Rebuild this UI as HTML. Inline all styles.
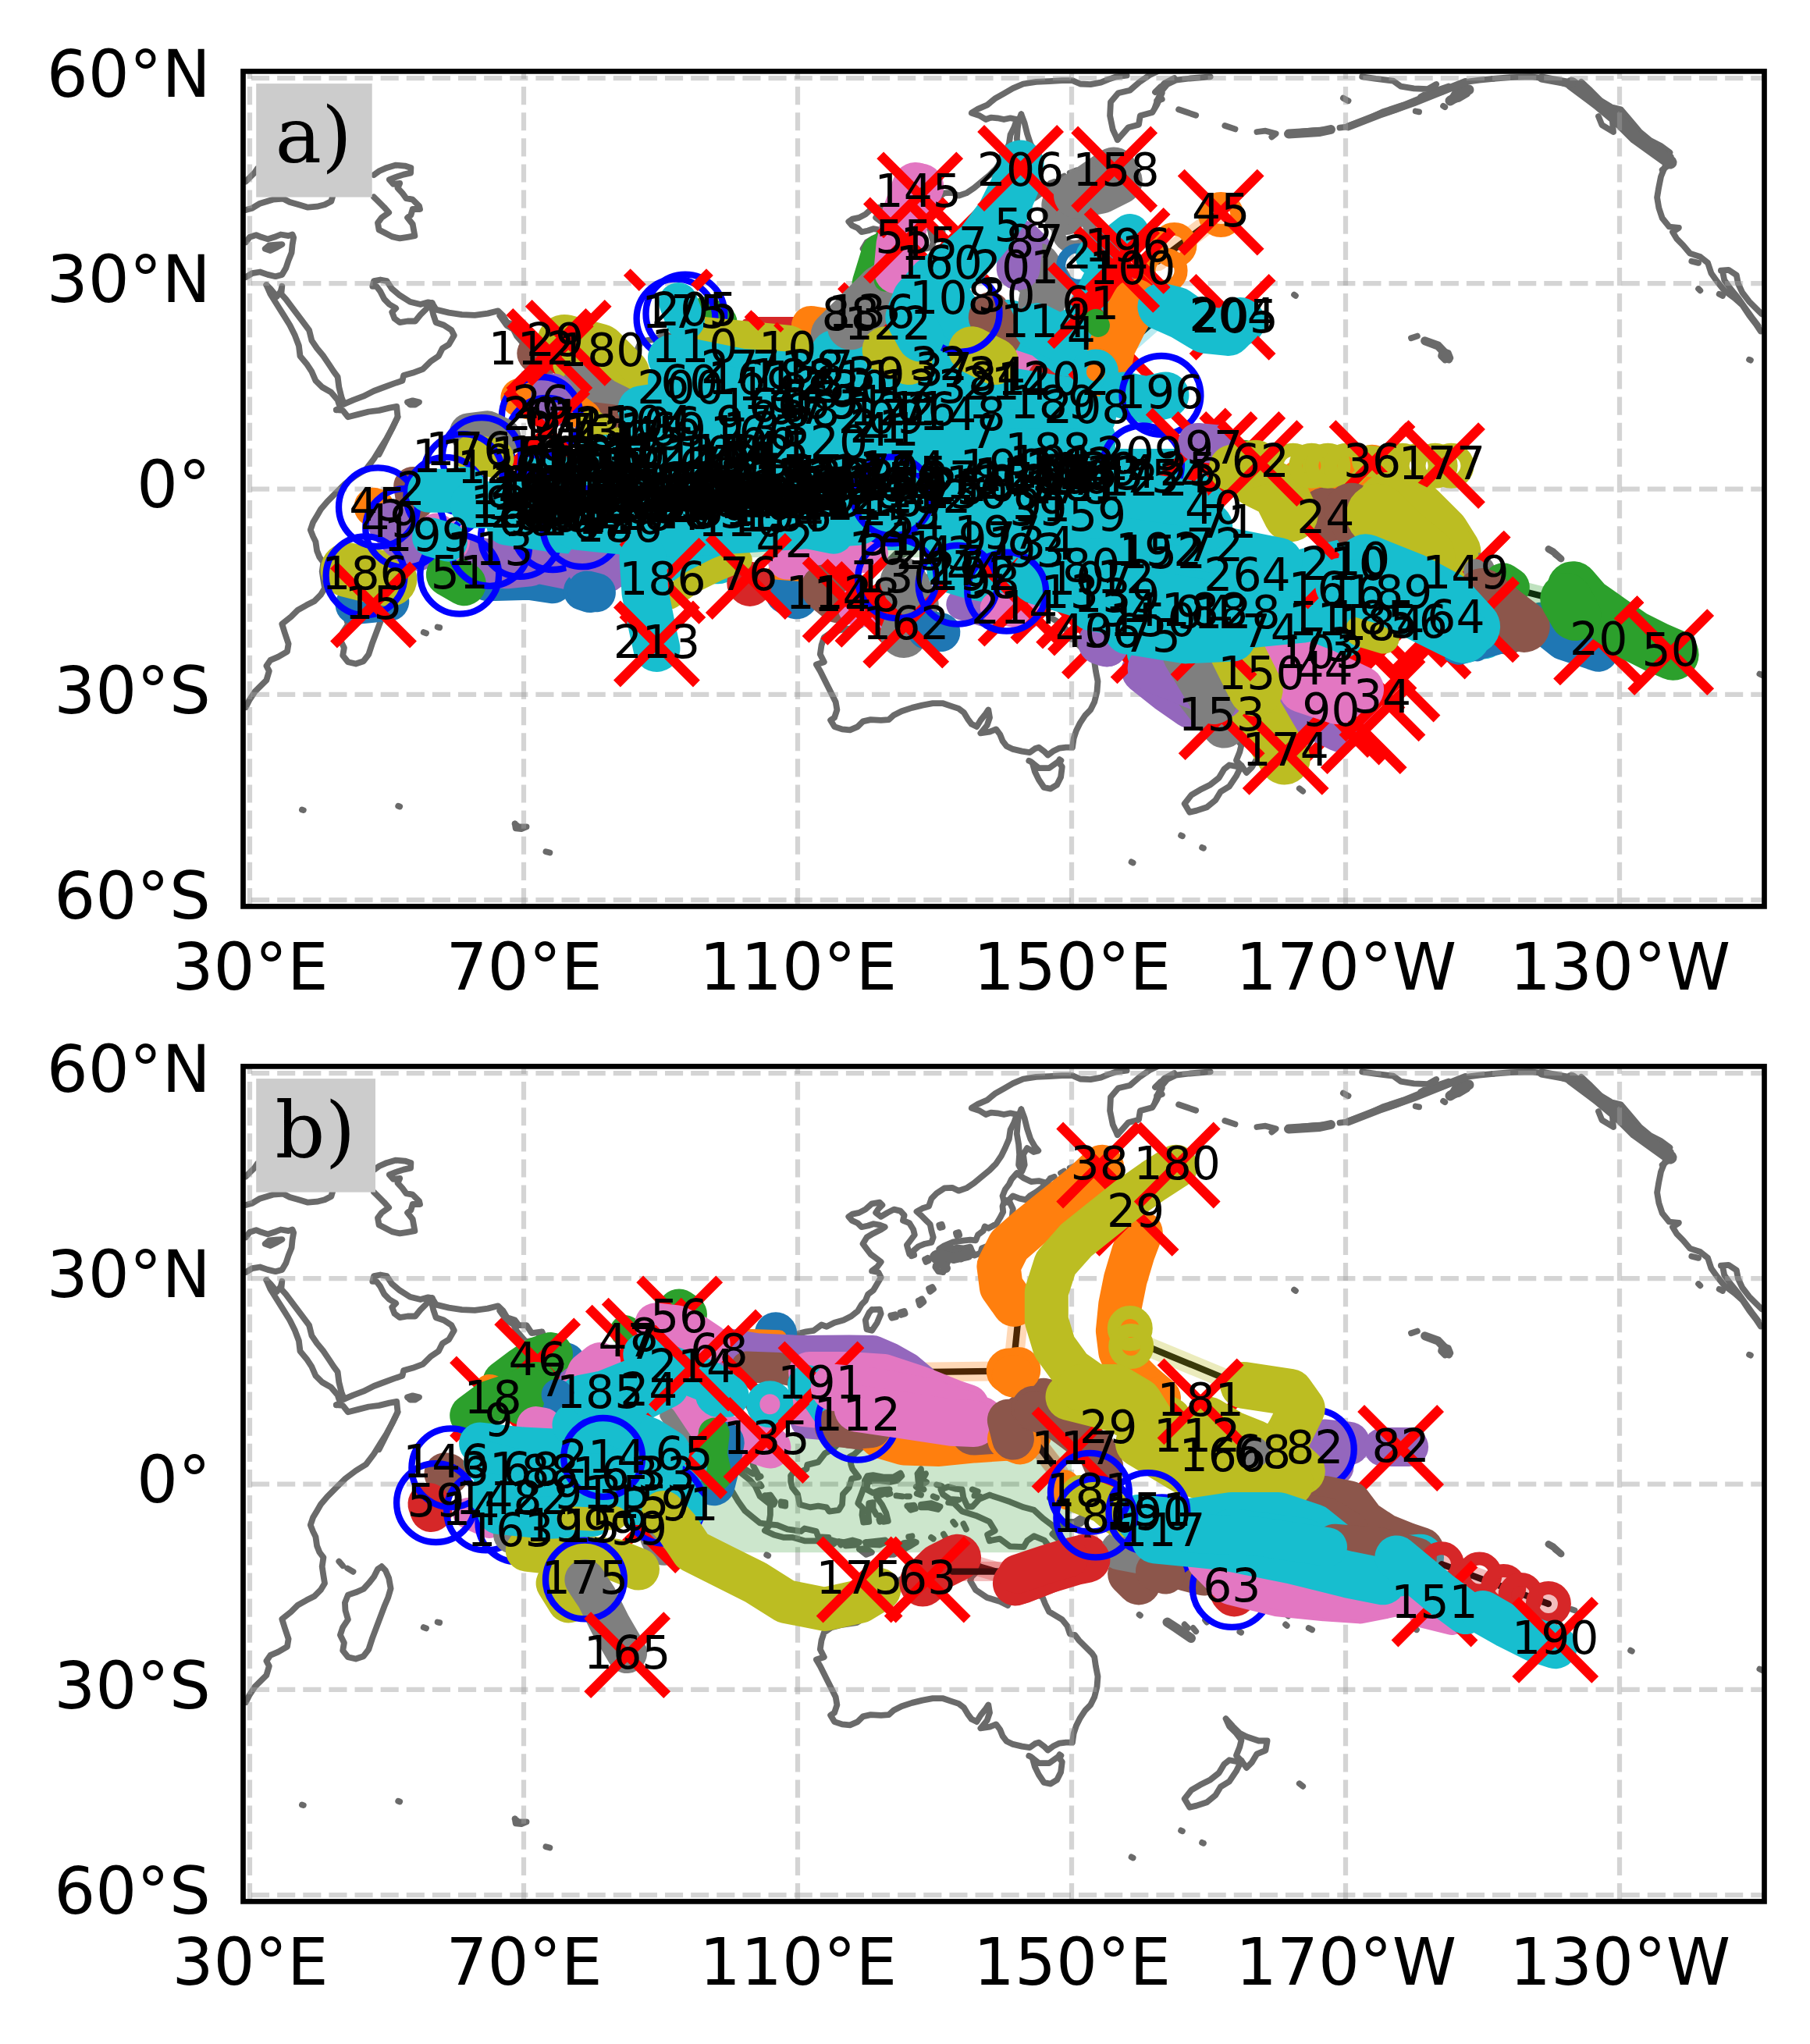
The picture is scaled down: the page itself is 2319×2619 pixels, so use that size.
<!DOCTYPE html>
<html lang="en"><head><meta charset="utf-8"><title>Tracks</title>
<style>html,body{margin:0;padding:0;background:#fff}svg{display:block}</style></head><body>
<svg width="2319" height="2619" viewBox="0 0 2319 2619">
<rect width="2319" height="2619" fill="#fff"/>
<defs>
<clipPath id="cp"><rect x="311.5" y="91.4" width="1949" height="1070"/></clipPath>
<g id="coast" fill="none" stroke="#6a6a6a" stroke-width="7.8" stroke-linecap="round" stroke-linejoin="round">
<path d="M314.9 269 323.2 266.7 333.1 260.7 349.7 255.7 363 254.7 371.3 259 382.9 262.3 394.5 265.7 406.1 264.7 416 262.3 424.3 258 426 252.4"/>
<path d="M314.9 232.5 319.9 227.5 326.5 220.9 329.8 215.9"/>
<path d="M479 224.2 485.6 219.3 495.6 214.9 507.2 211.6 518.8 212.6 526.4 214.9 526.1 221.6 517.1 223.6 507.2 226.9 498.9 230.2 503.9 235.8 512.2 234.8 509.5 240.8 515.5 247.4 520.4 254.1 528.7 255.7 537 264 538 268 528.7 268 526.4 275.6 522.1 278.9 528.7 287.2 531.4 302.1 522.1 303.8 512.2 305.4 502.2 303.1 493.9 298.8 485.6 294.5 484 285.6 489 278.9 498.2 272.3 492.3 265.7 485.6 259 479 252.4"/>
<path d="M314.9 310.4 319.9 303.8 328.2 301.1 334.8 303.8 343.1 306.4 351.4 303.8 359.7 300.5 369.6 302.1 374.6 300.5 376.2 304.4 374.6 313.7 373.6 323.7 369.6 333.6 366.3 343.6 361.3 351.9 353 354.2 343.1 351.9 333.1 348.5 323.2 350.2 314.9 355.2"/>
<path d="M339.8 318.7 346.4 321 354.7 317 361.3 313.1 353 313.7 344.8 314.4 339.8 318.7"/>
<path d="M341.4 365.1 346.4 376.7 354.7 390 363 403.2 371.3 416.5 377.9 429.8 382.9 443 384.5 456.3 392.8 466.2 399.4 476.2 404.4 487.8 412.7 496 424.3 502.7 432.6 512.6 435.9 522.6 430.9 525.2"/>
<path d="M341.4 365.1 346.4 370.1 354.7 380 359.7 373.4 361.3 366.8 360.3 376.7 366.3 383.3 376.2 396.6 386.2 409.9 396.1 423.1 399.4 436.4 406.1 446.3 414.4 456.3 421 466.2 427.6 476.2 432.6 482.8 434.3 496 437.6 509.3 440.9 517.6"/>
<path d="M440.9 517.6 452.5 512.6 465.7 507.7 479 501 492.3 496 505.5 491.1 515.5 487.8 517.1 481.1 528.7 477.8 542 472.8 551.9 462.9 561.9 456.3 566.9 446.3 575.1 441.4 581.8 429.8 578.5 423.1 568.5 416.5 558.6 413.2 555.2 403.2 553.6 396.6 553.6 388.3"/>
<path d="M553.6 388.3 547 394.9 538.7 403.2 532 411.5 522.1 411.5 512.2 413.2 505.5 408.2 502.2 399.9 507.2 394.9 498.9 390 492.3 383.3 487.3 373.4 482.3 366.8 477.3 366.8 479 360.1 487.3 358.5 495.6 360.1 502.2 370.1 512.2 378.4 525.4 386.7 538.7 390 548.6 387.3 553.6 388.3"/>
<path d="M553.6 388.3 558.6 396.6 575.1 400.6 591.7 403.2 608.3 403.9 624.9 401.6 638.1 398.3 644.8 404.9 649.7 413.2 659.7 416.5 664.6 423.1 674.6 423.1 681.2 433.1 694.5 431.4 697.8 439.7"/>
<path d="M430.9 525.2 439.2 525.9 445.9 534.2 459.1 530.9 472.4 527.5 485.6 525.9 498.9 522.6 508.2 520.9 509.5 534.2 503.9 545.8 498.9 555.7 492.3 569 485.6 582.2"/>
<path d="M522.1 515.3 528.7 513.3 537 515.3 532 518.6 525.4 518.6 522.1 515.3"/>
<path d="M1022.7 433.7 1032.6 431.4 1042.5 429.8 1052.5 422.5 1059.1 424.8 1069.1 419.8 1080.7 416.5 1090.6 411.5 1098.9 404.9 1103.9 396.6 1108.8 391.6 1112.2 383.3 1118.8 378.4 1123.8 370.1 1128.7 361.8 1125.4 355.2 1117.1 353.5 1123.8 348.5 1128.7 341.9 1122.1 336.9 1115.5 332 1110.5 325.3 1105.5 318.7 1110.5 310.4 1118.8 305.4 1128.7 300.5 1133.7 297.2 1127.1 294.5 1118.8 293.2 1112.2 295.5 1103.9 297.2 1098.9 292.2 1091.6 288.9 1087.3 283.9 1092.3 280.6 1100.6 278.9 1108.8 274.6 1117.1 267.3 1127.1 265.7 1130.4 269 1125.4 274 1122.1 278.9 1128.7 283.9 1137 278.9 1145.3 274.6 1153.6 276.6 1158.6 282.2 1156.9 288.9 1165.2 292.2 1170.2 300.5 1171.8 307.1 1166.9 313.7 1161.9 320.4 1165.2 332 1176.8 322 1185.1 318.7 1193.4 317 1195.7 310.4 1193.4 302.1 1191.7 293.8 1186.7 288.9 1180.1 282.2 1174.5 277.3 1181.8 273.3 1190.1 270.6 1193.4 260.7 1200 254.1 1209.9 247.4 1219.9 246.8 1228.2 250.7 1238.1 247.4 1248.1 240.8 1258 232.5 1268 224.2 1276.2 215.9 1282.9 206 1287.8 196 1292.8 184.4 1294.5 172.8 1299.4 162.9 1302.8 153 1294.5 151.3 1286.2 153 1277.9 151.3 1269.6 150.6 1263 153 1254.7 148 1244.8 144.7 1253 139.7 1264.6 134.7 1274.6 126.4 1286.2 119.8 1297.8 113.2 1311 107.5 1327.6 104.9 1344.2 104.2 1360.8 103.2 1374 103.2 1384 107.5 1397.2 108.2 1410.5 105.6 1420.4 101.6 1430.4 98.3 1443.6 96.6"/>
<path d="M1308.4 146.3 1312.7 157.9 1316 171.2 1320.3 184.4 1326 194.4 1330.3 199.4 1324.3 201 1316 196 1311 204.3 1312.7 217.6 1309.4 225.9 1305.1 217.6 1306.1 204.3 1305.1 191.1 1302.8 177.8 1303.8 164.6 1305.1 154.6 1308.4 146.3"/>
<path d="M1302.8 228.2 1311 234.2 1321 239.1 1330.9 238.1 1340.9 240.8 1334.3 247.4 1327.6 252.4 1319.3 257.4 1314.4 262.3 1306.1 260.7 1297.8 257.4 1292.8 262.3 1286.2 264 1284.5 257.4 1287.8 249.1 1292.8 242.5 1296.1 235.8 1302.8 228.2"/>
<path d="M1293.8 265.7 1297.8 274 1296.8 283.9 1292.8 293.8 1290.5 303.8 1293.1 313.1 1286.2 317 1283.5 321 1277.9 318.7 1274.6 323.7 1266.3 321 1258 324.3 1256.4 330.3 1248.4 333.6 1244.8 327 1243.1 322.7 1234.8 324.3 1226.5 323.7 1218.2 325.3 1211.6 327 1206.3 328.6 1203.3 325.3 1209.9 321 1221.2 316.4 1234.1 314.7 1243.1 313.7 1250.1 314.4 1253 307.1 1259.7 302.1 1261.7 296.5 1266.3 298.8 1276.6 293.2 1281.2 285.6 1285.2 277.9 1284.5 270.6 1286.2 265.7 1293.8 265.7"/>
<path d="M1219.6 332 1226.5 328.6 1234.8 327.7 1238.8 330.3 1236.5 335.3 1231.5 338.6 1226.5 336.9 1221.5 339.6 1219.6 332"/>
<path d="M1200 330.3 1206.6 330.3 1213.3 333 1214.9 340.2 1211.6 348.5 1208.3 355.2 1202.3 354.2 1198.3 348.5 1200 341.9 1195 336.9 1196.7 332 1200 330.3"/>
<path d="M1117.1 403.2 1127.1 402.6 1128.7 408.2 1123.8 419.8 1117.1 429.8 1110.5 428.1 1108.8 416.5 1113.8 406.5 1117.1 403.2"/>
<path d="M1190.1 376 1194.4 374.1 1196 376.7 1191.7 380 1190.1 376"/>
<path d="M1176.8 391.6 1181.1 389.3 1183.4 393.3 1178.5 397.3 1176.8 391.6"/>
<path d="M1141.3 410.5 1147 409.2 1148 412.5 1142.7 413.8 1141.3 410.5"/>
<path d="M1153.6 406.5 1158.6 404.9 1159.6 408.2 1154.6 409.9 1153.6 406.5"/>
<path d="M1203.3 294.8 1206.6 293.8 1207.6 297.2 1204.3 298.1 1203.3 294.8"/>
<path d="M1224.9 305.1 1228.2 304.1 1229.2 307.4 1225.9 308.4 1224.9 305.1"/>
<path d="M1166.9 331 1170.2 329.6 1171.2 333 1167.8 334.3 1166.9 331"/>
<path d="M1185.1 338.6 1188.4 336.9 1189.7 340.2 1186.4 341.9 1185.1 338.6"/>
<path d="M1345.9 234.8 1350.8 232.8"/>
<path d="M1359.1 228.2 1363.4 225.6"/>
<path d="M1370.7 221.6 1379 218.3"/>
<path d="M1340.9 240.8 1345.9 234.8"/>
<path d="M1480 137.2 1483.5 127 1488.8 115.9 1495.5 108 1506.5 102.7 1524.2 100.5 1550.7 98.3"/>
<path d="M1480 118.1 1486.6 111.5"/>
<path d="M1482.2 129.2 1488.8 127"/>
<path d="M1510.1 140.2 1518.9 143.3 1532.2 147.8"/>
<path d="M1569.3 161 1582.5 165.4"/>
<path d="M1610.4 169 1621.4 167.7 1634.7 171.2 1629.4 175.6"/>
<path d="M1651.5 171.6 1665.6 169 1683.3 167.2 1704.5 165.9"/>
<path d="M1716.5 163.7 1727.5 162.3"/>
<path d="M1727.5 161.5 1745.2 154.8 1767.3 146.9 1789.4 140.2 1811.5 131.4 1833.6 122.6 1846.9 118.1 1860.1 112.4 1871.2 108 1882.2 104.4 1895.5 102.7 1913.1 100.9"/>
<path d="M1745.2 155.7 1771.7 143.3 1798.2 134.5 1820.3 125.7 1838 116.8 1855.7 110.6"/>
<path d="M1745.2 98.3 1762.9 100.9 1785 103.6 1794.7 110.6 1811.5 113.3 1829.2 114.2 1840.2 108 1833.6 116.8 1820.3 123.9"/>
<path d="M1857.9 129.2 1869 127 1880 120.4 1882.2 113.7 1873.4 111.5 1864.5 118.1 1857.9 129.2"/>
<path d="M1720.9 125.7 1727.5 129.2"/>
<path d="M1849.1 135.8 1851.3 137.2"/>
<path d="M1813.7 142.5 1818.1 143.3"/>
<path d="M1913.1 100.9 1935.2 99.1 1961.8 98.3 1983.9 100.9 2003.8 107.1 2021.4 112.4 2034.7 121.2 2048 133.6 2061.2 143.3 2072.3 150.4 2084.6 160.1 2094.4 172.5 2106.7 183.1 2120 190.2 2133.3 197.7 2142.1 205.2 2133.3 213.2 2128 226.4 2125.3 239.7 2123.1 253 2125.3 266.2 2129.7 279.5 2138.6 290.5 2150.9 291.9 2143 297.2 2148.3 306 2156.2 314 2165.1 324.6 2178.3 329 2188.1 336.9 2192.5 350.2 2200.4 361.2 2209.3 372.3 2222.5 382 2232.3 390.9 2241.1 404.1 2249.9 415.6 2255.7 424.4"/>
<path d="M2025.9 104.9 2037.8 115.9 2051 129.2 2064.3 137.2 2076.7 140.2 2089.9 155.7 2101 169 2114.3 180 2127.5 186.7 2139.4 195.5"/>
<path d="M2030.3 111.5 2043.5 127 2054.6 140.2 2065.6 151.3 2067 169 2052.4 160.1 2048 149.1"/>
<path d="M2076.7 146.9 2092.2 164.6 2103.2 175.6 2116.5 185.8 2129.7 193.3 2140.8 200.8 2138.6 211 2129.7 217.6"/>
<path d="M2204.9 346.7 2214.6 345.8 2224.8 352.4 2227 363.5 2232.3 374.9 2241.1 386.4 2249.9 395.3 2257 402.3"/>
<path d="M2207.1 348 2209.3 359 2217.2 370.1 2227 382 2235.8 394.4 2244.6 406.8 2252.6 417.4"/>
<path d="M2176.1 370.1 2178.3 372.3"/>
<path d="M2241.1 460.7 2242.9 461.6"/>
<path d="M2167.3 334.7 2176.1 336.9"/>
<path d="M2202.7 376.7 2207.1 378.9"/>
<path d="M1658.1 377.6 1659.9 378.9"/>
<path d="M1808 433.3 1815.9 430.6"/>
<path d="M1825.6 436.8 1833.6 439.9 1842.4 443"/>
<path d="M1847.7 449.6 1855.7 451.9 1858.3 458.5 1851.3 461.6 1846 456.3 1847.7 449.6"/>
<path d="M509.5 534.3 502.9 548.2 495.6 561.5 487.3 574.7 479 588 469.1 601.2 455.8 609.5 442.5 619.5 430.9 631.1 419.3 642.7 411 652.6 406.1 660.9 401.1 669.2 397.8 679.1 401.1 687.4 404.4 694.1 406.1 705.7 409.4 714 414.4 720.6 412.7 732.2 414.4 743.8 416 753.7 411 762 402.8 770.3 392.8 775.3 381.2 781.9 372.9 790.2 361.3 799.5 364.6 810.1 369.6 825 368 834.9 356.4 841.6 346.4 845.9 341.4 853.2 344.8 859.8 341.4 871.4 334.8 878 326.5 886.3 319.9 896.3 314.9 906.2"/>
<path d="M489 732.2 493.9 737.2 498.2 747.1 500.6 760.4 497.2 772 492.3 783.6 487.3 796.8 482.3 810.1 477.3 823.3 472.4 838.3 465.7 847.2 455.8 850.5 445.9 848.2 439.2 839.9 440.9 830 435.9 820 439.2 810.1 445.9 800.1 442.5 788.5 441.9 778.6 445.9 768.6 455.8 765.3 465.7 761 472.4 753.7 479 745.4 484 735.5 489 732.2"/>
<path d="M434.3 725.6 439.2 731.2"/>
<path d="M445.2 734.5 452.5 738.8"/>
<path d="M542.7 810.1 546 811.4"/>
<path d="M560.6 803.5 563.2 804.1"/>
<path d="M386.9 1037.5 388.8 1038.1"/>
<path d="M510.2 1032.8 512.2 1033.5"/>
<path d="M659.7 1055.4 664.6 1059.4 674.6 1059.4 668 1062 660.7 1061.4 659.7 1055.4"/>
<path d="M699.4 1091.2 704.4 1092.5"/>
<path d="M1065.7 810.1 1055.8 816.7 1052.5 826.7 1050.8 838.3 1055.8 848.2 1045.9 851.5 1050.8 859.8 1055.8 869.8 1060.8 879.7 1065.7 889.6 1070.7 899.6 1072.4 909.5 1069.1 919.5 1064.1 922.8 1069.1 931.1 1079 934.4 1089 935.4 1098.9 931.1 1105.5 924.4 1115.5 922.1 1128.7 922.8 1138.7 922.1 1145.3 916.2 1155.2 911.2 1168.5 906.9 1181.8 903.6 1195 901.2 1208.3 901.2 1218.2 904.6 1228.2 907.9 1234.8 912.8 1239.8 921.1 1244.8 927.8 1251.4 931.1 1256.4 922.8 1263 914.5 1266.3 909.5 1268 919.5 1264.6 929.4 1256.4 939.4 1268 937.7 1276.2 934.4 1281.2 941 1284.5 949.3 1289.5 955.9 1297.8 959.9 1309.4 962.6 1319.3 964.2 1326 959.3 1330.9 957.6 1337.6 962.6 1342.5 967.5 1349.2 962.6 1357.5 958.6 1365.7 957.6 1374 957.6 1375.7 946 1379 936 1384 926.1 1390.6 916.2 1397.2 909.5 1402.2 899.6 1405.5 886.3 1406.5 873.1 1403.9 859.8 1402.2 848.2 1398.9 843.2 1390.6 834.9 1382.3 826.7 1377.3 820 1370.7 818.4 1367.4 808.4 1360.8 800.1 1352.5 795.2 1344.2 790.2 1339.2 780.2 1335.9 772 1330.9 768.6 1324.3 753.7 1317.7 740.5 1312.7 727.2 1307.1 720.6 1305.1 727.2 1302.8 740.5 1299.4 757 1296.1 772 1291.2 781.9 1281.2 776.9 1264.6 772 1250.1 762.3 1243.1 750.4 1244.8 745.4 1249.7 740.5 1257 733.5 1251.4 728.9 1241.4 729.9 1228.2 727.9 1214.9 728.9 1204.3 734.8 1195 737.2 1185.1 740.5 1175.1 737.2 1165.2 743.8 1153.6 748.8 1145.3 757 1135.4 773.6 1129.1 783.9 1112.2 795.2 1097.6 804.1 1079 806.8 1065.7 810.1"/>
<path d="M1322.7 977.5 1330.9 984.1 1344.2 984.1 1355.8 975.8 1360.8 982.5 1359.1 995.7 1354.1 1005.7 1345.9 1010.6 1337.6 1009 1330.9 999 1326 989.1 1322.7 977.5"/>
<path d="M1318.3 974.8 1320.3 975.8"/>
<path d="M1357.5 973.2 1359.4 974.5"/>
<path d="M982.2 717.3 984.2 718.3"/>
<path d="M1459.6 793.8 1460.9 794.8"/>
<path d="M1449.6 1104.4 1451.6 1105.4"/>
<path d="M1570.6 927.2 1579.4 936.9 1588.3 945.8 1597.1 950.2 1612.6 955.5 1623.6 955.5 1621.4 967.9 1610.4 972.3 1603.8 983.3 1597.1 990 1590.5 981.1 1583.9 974.5 1588.3 963.5 1590.5 954.6 1583.9 945.8 1575 936.9 1570.6 927.2"/>
<path d="M1590.5 981.1 1583.9 994.4 1575 1007.7 1564 1014.3 1557.3 1025.3 1546.3 1034.2 1533 1038.6 1524.2 1040.8 1517.6 1029.8 1526.4 1018.7 1537.5 1012.1 1550.7 1005.4 1561.8 996.6 1568.4 985.6 1575 980.2 1583.9 982 1590.5 981.1"/>
<path d="M1664.8 1010.3 1669.2 1013.8"/>
<path d="M1513.1 1070.4 1514.9 1071.3"/>
<path d="M1540.1 1085.9 1541.9 1086.8"/>
<path d="M1495.5 803.5 1506.5 811 1517.6 817.6 1526.4 824.2"/>
<path d="M1517.6 806.5 1522 811"/>
<path d="M1528.6 811 1532.2 815.4"/>
<path d="M1544.1 800.8 1546.3 803.5"/>
<path d="M1612.6 775.6 1620.6 780 1625 785.8"/>
<path d="M1632.5 780 1635.6 782.2"/>
<path d="M1639.1 790.2 1641.8 792"/>
<path d="M1647.1 783.1 1649.7 784.9"/>
<path d="M1648 793.3 1650.6 795.5"/>
<path d="M1647.1 806.5 1648.8 807.9"/>
<path d="M1676.7 811 1681.1 813.2"/>
<path d="M1688.6 789.3 1690.4 790.2"/>
<path d="M1724.4 792.8 1726.2 793.7"/>
<path d="M1588.3 815.8 1590.1 816.7"/>
<path d="M1813.7 812.3 1815 813.2"/>
<path d="M1983.9 703.6 1989.2 707.1"/>
<path d="M1992.7 710.6 1999.8 715.9"/>
<path d="M2013.9 787.1 2017.5 788.4"/>
<path d="M2089.1 839.7 2090.8 840.6"/>
<path d="M2254.4 863.6 2257.9 865.3"/>
<path d="M893 577.4 912.3 580.9 919.3 589.6 932.5 600.2 938.6 607.2 947.4 610.7 960.6 621.2 967.6 629.1 973.7 642.3 986.9 652.8 986.9 666 985.1 677.4 979.9 677.4 973.7 676.5 965 669.5 954.4 660.7 945.7 648.4 937.8 635.3 927.2 622.1 922.8 611.6 914.1 604.6 907.9 597.5 894.8 584.4 893 577.4"/>
<path d="M837.7 435.2 850.9 429.1 862.3 430.8 866.7 444 877.2 455.4 884.2 468.6 886 486.1 893 487.9 906.2 478.2 913.2 481.7 914.9 494.9 918.5 508 922 521.2 922.8 534.4 919.3 547.5 919.3 556.3 929.9 565.1 936.9 573.9 937.8 582.6 940.4 591.4 945.7 600.2 950 604.6 964.1 613.3 971.1 614.2 965 602.8 964.1 591.4 962.3 582.6 953.6 572.1 943 566 936.9 560.7 934.2 551.9 928.1 544.9 927.2 534.4 932.5 521.2 934.2 508.9 942.1 508.9 943 515.9 954.4 519.4 960.6 530 973.7 534.4 978.1 547.5 979.9 550.2 993 543.1 993.9 535.2 998.3 534.4 1013.2 525.6 1015.9 512.4 1013.2 499.3 1007.1 486.1 997.4 477.3 991.3 468.6 984.3 459.8 986.9 451 995.7 442.2 1004.5 437 1017.6 437.8 1022 439.6 1026.4 448.4 1023.8 448.4 1024.6 439.6"/>
<path d="M1009.7 458 1017.6 451 1028.1 451 1030.8 454.5 1025.5 464.2 1017.6 466.8 1010.6 463.3 1009.7 458"/>
<path d="M640.3 404.5 649.1 416.8 657.8 422 662.2 430.8 673.6 444 688.5 442.2 693.8 431.7 695.6 455.4 699.1 477.3 704.3 494.9 711.4 512.4 719.3 525.6 726.3 543.1 736.8 555.4 743 548.4 751.7 544.9 757 536.1 757.9 521.2 761.4 508 759.6 492.2 767.5 484.3 778.9 480.8 789.5 470.3 802.6 456.3 815.8 450.1 820.2 439.6 829 436.1 837.7 435.2"/>
<path d="M757.9 542.3 765.8 547.5 774.5 560.7 773.7 569.5 764 574.7 758.8 570.3 756.1 556.3 757.9 542.3"/>
<path d="M1013.2 616 1017.6 609.8 1024.6 611.6 1033.4 607.2 1034.3 601.9 1048.3 598.4 1057.1 587 1067.6 581.7 1076.4 572.1 1081.7 565.1 1088.7 571.2 1102.7 580.9 1094 588.8 1088.7 591.4 1090.4 601.9 1092.2 607.2 1100.1 617.7 1091.3 619.5 1087.8 630.9 1079.9 639.7 1079 652.8 1074.7 659.8 1062.4 661.6 1058.9 656.3 1048.3 654.6 1037.8 656.3 1024.6 652.8 1022 639.7 1015 630.9 1013.2 623.9 1013.2 616"/>
<path d="M979.9 686.2 986.9 678.3 995.7 679.1 1008.8 684.4 1026.4 687 1030.8 683.5 1045.7 687 1048.3 694.1 1061.5 694.9 1061.5 702.8 1048.3 699.3 1030.8 699.3 1015.9 694.9 1004.5 694.9 991.3 691.4 979.9 686.2"/>
<path d="M1065.9 698.5 1072 700.2 1067.6 703.7 1065.9 698.5"/>
<path d="M1074.7 700.2 1080.8 701.1 1077.3 704.6 1074.7 700.2"/>
<path d="M1081.7 701.1 1092.2 698.5 1101 701.1 1096.6 704.6 1083.4 705.5 1081.7 701.1"/>
<path d="M1108.9 701.1 1118.5 700.2 1134.3 698.5 1136.1 700.2 1127.3 704.6 1109.8 703.7 1108.9 701.1"/>
<path d="M1101 709.9 1109.8 709 1116.8 714.2 1109.8 716.9 1101 709.9"/>
<path d="M1140.5 716.9 1149.2 708.1 1158 702 1171.2 700.2 1173.8 701.1 1166.8 705.5 1153.6 712.5 1144.8 716.9 1140.5 716.9"/>
<path d="M979.9 641.4 986.9 640.5 993 649.3 991.3 652.8 985.1 646.7 979.9 641.4"/>
<path d="M1000.9 649.3 1006.2 650.2 1006.2 654.6 1000.9 653.7 1000.9 649.3"/>
<path d="M971.1 618.6 974.6 616.8"/>
<path d="M973.7 626.5 975.5 629.1"/>
<path d="M1108 622.1 1111.5 616 1118.5 615.1 1131.7 617.7 1144.8 617.7 1153.6 612.5 1155.4 616 1149.2 622.1 1140.5 623.9 1127.3 622.1 1118.5 622.1 1111.5 624.7 1110.6 633.5 1118.5 637.9 1127.3 634.4 1139.6 633.5 1137.8 637 1129.1 640.5 1122.9 643.2 1129.9 652.8 1135.2 663.4 1137.8 673.9 1131.7 674.8 1127.3 666.9 1122.9 666 1118.5 658.1 1118.5 650.2 1113.3 651.1 1112.4 666 1113.3 674.8 1106.2 675.6 1104.5 666 1105.4 657.2 1099.2 651.1 1103.6 639.7 1108 627.4 1108 622.1"/>
<path d="M1132.6 670.4 1136.1 672.1"/>
<path d="M1126.4 672.1 1127.3 674.8"/>
<path d="M1137 639.7 1140.5 638.8"/>
<path d="M1148.4 641.4 1156.3 642.3"/>
<path d="M1161.5 642.3 1165 642.3"/>
<path d="M1175.6 613.3 1180 607.2 1180 616 1186.1 613.3 1181.7 621.2 1187 623.9 1180 628.3 1183.5 633.5 1178.2 630.9 1176.4 622.1 1175.6 613.3"/>
<path d="M1162.4 654.6 1171.2 653.7 1172.9 658.1 1166.8 659.8 1162.4 654.6"/>
<path d="M1180 652.8 1193.1 651.1 1204.5 655.5 1201.9 659 1188.7 656.3 1180 656.3 1180 652.8"/>
<path d="M1173.8 630 1178.2 633.5"/>
<path d="M1174.7 638.8 1180 640.5"/>
<path d="M1200.1 627.4 1206.3 629.1"/>
<path d="M1195.7 642.3 1200.1 644.1"/>
<path d="M1208.9 690.6 1212.4 696.7"/>
<path d="M1234.4 677.4 1237.9 684.4"/>
<path d="M1221.2 674.8 1223.8 678.3"/>
<path d="M1193.1 694.9 1195.7 696.7"/>
<path d="M1164.2 694.1 1168.5 693.2"/>
<path d="M1205.4 633.5 1215.1 630 1223.8 632.6 1232.6 633.5 1234.4 644.1 1239.6 655.5 1245.8 655.5 1254.5 645.8 1267.7 640.5 1280.9 644.9 1294 649.3 1311.6 656.3 1324.7 659.8 1336.1 670.4 1346.7 678.3 1353.7 685.3 1348.4 690.6 1355.5 696.7 1364.2 705.5 1373 716 1380 719.5 1368.6 716.9 1355.5 715.1 1346.7 709.9 1337.9 698.5 1324.7 693.2 1316 699.3 1311.6 707.2 1294 706.4 1280.9 696.7 1267.7 699.3 1265.1 691.4 1274.7 686.2 1267.7 674.8 1250.2 666.9 1232.6 661.6 1222.1 651.1 1215.1 650.2 1228.2 646.7 1216.8 645.8 1208 639.7 1205.4 633.5"/>
<path d="M1358.1 676.5 1368.6 674.8 1377.4 674.8 1386.2 668.6 1393.2 663.4 1392.3 670.4 1384.4 677.4 1373 681.8 1362.5 680.9 1358.1 676.5"/>
<path d="M1380 649.3 1390.5 655.5 1399.3 666 1396.7 666.9 1386.2 655.5 1380 649.3"/>
<path d="M1413.4 672.1 1421.3 679.1 1424.8 686.2 1418.6 684.4 1413.4 672.1"/>
<path d="M1430 687.9 1438.8 693.2"/>
<path d="M1443.2 694.9 1456.4 701.1"/>
<path d="M1457.2 709 1467.8 712.5"/>
<path d="M1466.9 701.1 1472.2 710.7"/>
<path d="M1472.2 716.9 1480.1 720.4"/>
<path d="M1344.9 644.1 1349.3 644.9"/>
<path d="M1245.8 633.5 1252.8 636.2"/>
<path d="M1248.4 641.4 1255.4 642.3"/>
<path d="M1115 464.2 1127.3 465 1129.9 477.3 1123.8 486.1 1124.7 499.3 1136.1 503.7 1144.8 512.4 1144.8 515.9 1136.1 510.7 1129.9 505.4 1121.2 507.2 1115 501.9 1117.6 497.5 1111.5 496.6 1108.9 484.3 1113.3 472.9 1115 464.2"/>
<path d="M1127.3 565.1 1138.7 551.9 1151.9 551.9 1158 541.4 1165 549.3 1166.8 563.3 1164.2 571.2 1158 573.9 1158 565.1 1153.6 575.6 1144.8 569.5 1144.8 560.7 1136.1 560.7 1127.3 565.1"/>
<path d="M1147.5 516.8 1156.3 518.6 1159.8 530 1153.6 536.1 1151.9 525.6 1147.5 516.8"/>
<path d="M1127.3 523 1136.1 525.6 1137.8 534.4 1138.7 544.9 1132.6 542.3 1131.7 533.5 1127.3 534.4 1127.3 523"/>
<path d="M1085.2 552.8 1096.6 543.1 1105.4 531.7 1103.6 536.1 1094.8 547.5 1085.2 552.8"/>
<path d="M1113.3 508.9 1122 510.7 1121.2 518.6 1116.8 516.8 1113.3 508.9"/>
<path d="M1140.5 532.6 1144.8 530"/>
<path d="M1144.8 541.4 1149.2 538.8"/>
<path d="M1431.8 179 1425.7 165.8 1422.1 148.3 1423 130.7 1432.7 119.3 1447.6 115.8 1460.8 104.4 1473.9 95.6 1487.1 89.5"/>
<path d="M1431.8 179 1445.8 163.2 1459 159.7 1460.8 148.3 1476.5 143.9 1482.7 133.3 1488.8 119.3 1482.7 117.5 1491.5 107 1504.6 100"/>
<path d="M870.2 508 871.9 521.2 869.3 524.7"/>
<path d="M868.4 532.6 869.3 534.4"/>
<path d="M879 563.3 880.7 566"/>
<path d="M697.3 566.8 698.2 567.7"/>
<path d="M700.8 589.6 701.7 591.4"/>
<path d="M698.2 622.1 699.1 623.9"/>
<path d="M692.1 690.6 692.9 691.4"/>
<path stroke-width="17" d="M2013.6 107.2 2048 133 2074 154.7 2095.5 176.2 2125.7 197.8 2140 208"/>
<path stroke-width="11" d="M1975 100 2013.6 107.2"/>
<path stroke-width="10" d="M1727.5 162.4 1767.3 146.9 1811.5 131.4 1855.7 113.7 1877.8 105"/>
<path stroke-width="12" d="M1651 171.6 1691 169 1705 166"/>
<path stroke-width="13" d="M1858 129 1870 122 1882 115"/>
<path stroke-width="14" d="M1203 333 1222 337 1240 333"/>
<path stroke-width="12" d="M1197 335 1212 350"/>
<path stroke-width="12" d="M1495.5 803.5 1507 811 1526 824"/>
<path stroke-width="12" d="M1612.6 775.6 1625 785.8"/>
<path stroke-width="9" d="M1984 703.6 1990 707 2000 716"/>
<path stroke-width="11" d="M1825.6 436.8 1842.4 443 1851 452 1856 460"/>
</g>
<g id="grid"><g stroke="#a0a0a0" stroke-opacity=".45" stroke-width="6.25" stroke-dasharray="23.125 10" fill="none">
<path d="M322 100 H2260.5"/>
<path d="M322 363.2 H2260.5"/>
<path d="M322 626.5 H2260.5"/>
<path d="M322 889.8 H2260.5"/>
<path d="M322 1153 H2260.5"/>
<path d="M320 77.9 V1161.4"/>
<path d="M671 77.9 V1161.4"/>
<path d="M1022 77.9 V1161.4"/>
<path d="M1373 77.9 V1161.4"/>
<path d="M1724 77.9 V1161.4"/>
<path d="M2075 77.9 V1161.4"/>
</g></g>
<g id="mx" stroke="#ff0000" stroke-width="12.5" stroke-linecap="butt" fill="none"><path d="M-51 -51L51 51M-51 51L51 -51"/></g><g id="mc" stroke="#0000ff" stroke-width="8.3" fill="none"><circle r="50.4"/></g>
</defs>
<g transform="translate(0 0)">
<g clip-path="url(#cp)">
<use href="#coast"/>
<use href="#grid"/>
<g fill="none" stroke-linecap="round" stroke-linejoin="round">
<rect x="890.4" y="563.3" width="482.6" height="150.9" fill="#008000" fill-opacity=".2" stroke="none"/>
<use href="#mx" x="1745" y="860"/>
<use href="#mx" x="1790" y="870"/>
<use href="#mx" x="1720" y="925"/>
<use href="#mx" x="1760" y="835"/>
<use href="#mx" x="1800" y="800"/>
<use href="#mx" x="1830" y="815"/>
<use href="#mx" x="1700" y="880"/>
<use href="#mx" x="1745" y="790"/>
<use href="#mx" x="1690" y="760"/>
<use href="#mx" x="1640" y="800"/>
<path d="M700 605 1000 605 1300 605 1540 605" stroke="#17becf" stroke-width="60"/>
<path d="M700 640 1000 640 1300 640 1540 640" stroke="#17becf" stroke-width="60"/>
<path d="M700 675 1000 675 1300 675 1540 675" stroke="#17becf" stroke-width="60"/>
<path d="M454.6 775 499.3 770.6" stroke="#1f77b4" stroke-width="50"/>
<path d="M624.6 745.2 678.3 743.7 708.2 748.2" stroke="#1f77b4" stroke-width="50"/>
<path d="M612.7 718.3 648.5 724.3 678.3 721.3" stroke="#9467bd" stroke-width="60"/>
<path d="M445.6 730.3 469.5 736.2 499.3 742.2" stroke="#bcbd22" stroke-width="70"/>
<path d="M478.5 649.7 479.9 650.3" stroke="#ff7f0e" stroke-width="50"/>
<path d="M481.4 649.7 499.3 657.2" stroke="#000" stroke-width="8.3"/>
<path d="M481.4 649.7 499.3 657.2" stroke="#ff7f0e" stroke-opacity=".3" stroke-width="25"/>
<path d="M529.2 622.9 532.2 640.8" stroke="#8c564b" stroke-width="50"/>
<path d="M499.3 670.6 514.3 688.5 535.1 703.4" stroke="#9467bd" stroke-width="56"/>
<path d="M573.9 736.2 594.8 748.2" stroke="#2ca02c" stroke-width="56"/>
<path d="M559 682.5 576.9 694.5" stroke="#e377c2" stroke-width="50"/>
<path d="M687.3 452.8 693.3 458.8" stroke="#8c564b" stroke-width="50"/>
<path d="M723.1 437.9 767.8 449.8 797.7 479.7 803.6 509.5" stroke="#bcbd22" stroke-width="70"/>
<use href="#mx" x="705.2" y="464.8"/>
<path d="M738 464.8 767.8 494.6 791.7 524.4" stroke="#bcbd22" stroke-width="60"/>
<path d="M747 488.6 773.8 509.5 803.6 524.4" stroke="#7f7f7f" stroke-width="50"/>
<path d="M761.9 530.4 785.7 533.4" stroke="#8c564b" stroke-width="30"/>
<path d="M666.4 509.5 678.3 512.5" stroke="#ff7f0e" stroke-width="50"/>
<path d="M738 524.4 749.9 533.4" stroke="#ff7f0e" stroke-width="40"/>
<path d="M708.2 506.5 711.2 518.5" stroke="#9467bd" stroke-width="56"/>
<use href="#mc" x="693.3" y="533.4"/>
<use href="#mc" x="700.7" y="560.2"/>
<use href="#mx" x="700.7" y="551.3"/>
<path d="M600.8 554.3 624.6 551.3 642.5 560.2" stroke="#7f7f7f" stroke-width="50"/>
<path d="M606.7 581.1 633.6 587.1" stroke="#bcbd22" stroke-width="50"/>
<path d="M758.9 545.3 767.8 551.3" stroke="#bcbd22" stroke-width="40"/>
<path d="M693.3 718.3 738 727.3 782.8 724.3" stroke="#9467bd" stroke-width="60"/>
<path d="M747 757.1 755.9 760.1" stroke="#1f77b4" stroke-width="50"/>
<use href="#mc" x="484.4" y="649.7"/>
<use href="#mc" x="468" y="737.7"/>
<use href="#mc" x="518.7" y="676.6"/>
<use href="#mc" x="570.9" y="636.3"/>
<use href="#mc" x="593.3" y="606.5"/>
<use href="#mc" x="617.2" y="585.6"/>
<use href="#mc" x="588.8" y="736.2"/>
<use href="#mc" x="627.6" y="700.4"/>
<use href="#mc" x="666.4" y="688.5"/>
<use href="#mc" x="708.2" y="679.6"/>
<path d="M550.1 628.8 573.9 628.8 594.8 625.9" stroke="#17becf" stroke-width="56"/>
<path d="M553 688.5 573.9 694.5" stroke="#17becf" stroke-width="50"/>
<path d="M606.7 646.7 648.5 646.7 708.2 646.7 767.8 646.7" stroke="#17becf" stroke-width="60"/>
<path d="M648.5 673.6 708.2 682.5 767.8 688.5 827.5 688.5" stroke="#17becf" stroke-width="50"/>
<path d="M821.5 524.4 857.3 518.5 887.2 527.4 920 539.3" stroke="#17becf" stroke-width="60"/>
<path d="M827.5 554.3 872.3 554.3 920 563.2" stroke="#17becf" stroke-width="60"/>
<path d="M767.8 587.1 827.5 587.1 887.2 587.1 920 587.1" stroke="#17becf" stroke-width="60"/>
<path d="M738 616.9 827.5 616.9 920 616.9" stroke="#17becf" stroke-width="60"/>
<path d="M767.8 646.7 857.3 646.7 920 646.7" stroke="#17becf" stroke-width="60"/>
<path d="M827.5 676.6 887.2 676.6 920 676.6" stroke="#17becf" stroke-width="60"/>
<path d="M752.9 706.4 797.7 709.4" stroke="#bcbd22" stroke-width="30"/>
<path d="M857.3 712.4 887.2 718.3 920 718.3" stroke="#17becf" stroke-width="60"/>
<path d="M754.9 723.5 775.8 729.5" stroke="#9467bd" stroke-width="60"/>
<path d="M751.9 756.4 763.9 759.3" stroke="#1f77b4" stroke-width="50"/>
<path d="M1008.5 759.3 1020.4 765.3" stroke="#1f77b4" stroke-width="56"/>
<path d="M993.6 732.5 1032.4 735.5" stroke="#ff7f0e" stroke-width="20"/>
<path d="M959.3 747.4 960.8 748.9" stroke="#d62728" stroke-width="56"/>
<path d="M859.3 765.3 889.2 744.4 919 729.5 948.8 717.6" stroke="#bcbd22" stroke-width="30"/>
<path d="M1008.5 717.6 1068.2 711.6 1112.9 708.6" stroke="#e377c2" stroke-width="50"/>
<path d="M1056.2 753.4 1074.1 768.3" stroke="#8c564b" stroke-width="60"/>
<path d="M1098 777.2 1157.7 783.2" stroke="#e377c2" stroke-width="50"/>
<use href="#mx" x="1083.1" y="768.3"/>
<use href="#mx" x="1107" y="771.3"/>
<use href="#mx" x="1124.9" y="774.3"/>
<path d="M1157.7 744.4 1172.6 774.3 1157.7 813" stroke="#7f7f7f" stroke-width="60"/>
<path d="M1187.5 807.1 1205.4 810.1" stroke="#1f77b4" stroke-width="50"/>
<path d="M1232.3 774.3 1262.1 783.2" stroke="#9467bd" stroke-width="40"/>
<use href="#mc" x="1142.8" y="646"/>
<use href="#mc" x="746" y="675.8"/>
<path d="M740 669.8 829.5 678.8 919 675.8 1008.5 669.8 1098 663.9" stroke="#17becf" stroke-width="70"/>
<use href="#mx" x="848.9" y="744.4"/>
<path d="M823.5 714.6 826.5 759.3 835.5 804.1 841.4 830.9" stroke="#17becf" stroke-width="60"/>
<path d="M1038.3 678.8 1068.2 684.8" stroke="#17becf" stroke-width="50"/>
<path d="M1187.5 669.8 1232.3 684.8 1280 699.7" stroke="#17becf" stroke-width="70"/>
<path d="M1217.3 729.5 1247.2 738.5 1280 744.4" stroke="#17becf" stroke-width="60"/>
<use href="#mx" x="841.4" y="825"/>
<use href="#mx" x="959.3" y="738.5"/>
<use href="#mx" x="1160.7" y="801.1"/>
<path d="M904.8 405 919.7 413.9" stroke="#2ca02c" stroke-width="50"/>
<use href="#mc" x="877.9" y="402"/>
<use href="#mc" x="866" y="408"/>
<use href="#mx" x="1012.2" y="455.7"/>
<use href="#mx" x="1042" y="473.6"/>
<path d="M964.4 425.9 994.3 425.9 1021.1 425.9" stroke="#d62728" stroke-width="40"/>
<path d="M1039 416.9 1056.9 419.9" stroke="#ff7f0e" stroke-width="50"/>
<path d="M889.8 434.8 949.5 440.8 1009.2 446.7" stroke="#bcbd22" stroke-width="60"/>
<path d="M1128.5 324.4 1116.6 363.2" stroke="#2ca02c" stroke-width="50"/>
<path d="M1173.3 237.9 1158.3 279.7 1152.4 324.4" stroke="#e377c2" stroke-width="60"/>
<use href="#mx" x="1128.5" y="416.9"/>
<path d="M1068.8 428.8 1098.7 399 1128.5 369.2 1152.4 354.3" stroke="#7f7f7f" stroke-width="60"/>
<path d="M1325.4 351.3 1343.3 363.2" stroke="#7f7f7f" stroke-width="60"/>
<path d="M1307.5 309.5 1319.4 321.4" stroke="#9467bd" stroke-width="56"/>
<path d="M1268.7 399 1277.7 413.9" stroke="#8c564b" stroke-width="50"/>
<path d="M1292.6 452.7 1337.3 458.7" stroke="#e377c2" stroke-width="56"/>
<path d="M1337.3 482.5 1367.2 488.5" stroke="#d62728" stroke-width="40"/>
<path d="M1232.9 443.8 1262.8 458.7" stroke="#bcbd22" stroke-width="60"/>
<use href="#mx" x="1146.4" y="452.7"/>
<path d="M1301.5 237.9 1283.6 279.7 1247.8 318.5 1203.1 354.3 1182.2 387.1 1203.1 428.8" stroke="#17becf" stroke-width="60"/>
<path d="M1218 387.1 1232.9 410.9" stroke="#17becf" stroke-width="60"/>
<path d="M860 458.7 949.5 476.6 1039 482.5 1128.5 476.6 1218 488.5 1307.5 503.4 1400 518.3" stroke="#17becf" stroke-width="60"/>
<path d="M860 488.5 979.3 506.4 1098.7 512.4 1218 518.3 1400 533.3" stroke="#17becf" stroke-width="60"/>
<path d="M860 518.3 979.3 536.2 1098.7 542.2 1218 548.2 1400 563.1" stroke="#17becf" stroke-width="60"/>
<path d="M860 548.2 979.3 566.1 1098.7 572 1218 578 1400 580.1" stroke="#17becf" stroke-width="60"/>
<path d="M1068.8 452.7 1128.5 458.7 1188.2 458.7" stroke="#17becf" stroke-width="60"/>
<path d="M1292.6 413.9 1337.3 428.8 1367.2 452.7" stroke="#17becf" stroke-width="60"/>
<path d="M869 387.1 877.9 410.9" stroke="#17becf" stroke-width="50"/>
<path d="M1089.8 418.3 1119.7 388.5 1149.5 364.6" stroke="#7f7f7f" stroke-width="60"/>
<path d="M1136.1 305 1134.6 358.7" stroke="#2ca02c" stroke-width="30"/>
<path d="M1179.3 239.3 1161.4 275.1 1152.5 313.9 1149.5 346.7" stroke="#e377c2" stroke-width="60"/>
<use href="#mx" x="1178.7" y="249.8"/>
<use href="#mx" x="1161.4" y="308"/>
<use href="#mx" x="1215.1" y="310.9"/>
<path d="M1555.2 281.1 1483.6 334.8" stroke="#000" stroke-width="8.3"/>
<path d="M1555.2 281.1 1483.6 334.8" stroke="#ff7f0e" stroke-opacity=".3" stroke-width="25"/>
<circle cx="1564.2" cy="275.1" r="20.5" stroke="#ff7f0e" stroke-width="17"/>
<circle cx="1504.5" cy="313.9" r="20.5" stroke="#ff7f0e" stroke-width="17"/>
<circle cx="1492.6" cy="346.7" r="20.5" stroke="#ff7f0e" stroke-width="17"/>
<path d="M1447.8 388.5 1432.9 418.3 1418 448.2 1412 478" stroke="#ff7f0e" stroke-width="60"/>
<path d="M1427 218.5 1388.2 245.3 1364.3 263.2" stroke="#7f7f7f" stroke-width="60"/>
<circle cx="1364.3" cy="272.2" r="20.5" stroke="#7f7f7f" stroke-width="17"/>
<circle cx="1376.2" cy="296" r="20.5" stroke="#7f7f7f" stroke-width="17"/>
<path d="M1328.5 340.8 1340.4 358.7 1334.5 388.5" stroke="#7f7f7f" stroke-width="60"/>
<circle cx="1382.2" cy="340.8" r="23" stroke="#1f77b4" stroke-width="12"/>
<path d="M1307.6 313.9 1304.6 343.8" stroke="#9467bd" stroke-width="56"/>
<path d="M1424 382.5 1453.8 364.6" stroke="#9467bd" stroke-width="20"/>
<path d="M1268.8 406.4 1280.8 430.3" stroke="#8c564b" stroke-width="56"/>
<path d="M1134.6 448.2 1164.4 463.1" stroke="#bcbd22" stroke-width="60"/>
<path d="M1245 448.2 1274.8 463.1" stroke="#bcbd22" stroke-width="60"/>
<use href="#mc" x="1230.1" y="400.4"/>
<path d="M1307.6 209.5 1298.7 239.3 1280.8 275.1 1253.9 310.9 1227.1 334.8 1194.3 358.7 1173.4 382.5 1164.4 406.4 1179.3 433.3" stroke="#17becf" stroke-width="60"/>
<path d="M1292.7 263.2 1268.8 299 1239 334.8 1209.2 358.7" stroke="#17becf" stroke-width="60"/>
<path d="M1328.5 418.3 1358.3 433.3 1388.2 418.3 1403.1 388.5 1418 358.7" stroke="#17becf" stroke-width="60"/>
<path d="M1403.1 328.8 1432.9 310.9 1447.8 299" stroke="#17becf" stroke-width="50"/>
<path d="M1450.8 436.2 1477.7 412.4" stroke="#000" stroke-width="8.3"/>
<path d="M1450.8 436.2 1477.7 412.4" stroke="#17becf" stroke-opacity=".3" stroke-width="25"/>
<path d="M1483.6 391.5 1507.5 397.5 1537.3 418.3 1567.2 424.3 1591 412.4" stroke="#17becf" stroke-width="60"/>
<circle cx="1403.1" cy="472" r="20.5" stroke="#17becf" stroke-width="17"/>
<use href="#mx" x="1307.6" y="215.5"/>
<use href="#mx" x="1450.8" y="346.7"/>
<use href="#mx" x="1397.1" y="391.5"/>
<use href="#mx" x="1424" y="433.3"/>
<use href="#mx" x="1564.2" y="272.2"/>
<use href="#mx" x="1579.1" y="406.4"/>
<path d="M1380 249.8 1409.8 243.9 1433.7 231.9" stroke="#7f7f7f" stroke-width="60"/>
<path d="M1454.6 387.1 1439.7 413.9 1424.8 443.8 1418.8 473.6" stroke="#ff7f0e" stroke-width="60"/>
<path d="M1403.9 410.9 1406.9 416.9" stroke="#2ca02c" stroke-width="30"/>
<circle cx="1403.9" cy="476.6" r="20.5" stroke="#17becf" stroke-width="17"/>
<path d="M1439.7 506.4 1469.5 512.4 1493.4 506.4" stroke="#17becf" stroke-width="60"/>
<path d="M1487.4 393 1514.3 405 1544.1 422.9 1573.9 425.9 1588.8 410.9" stroke="#17becf" stroke-width="60"/>
<use href="#mc" x="1488" y="506.4"/>
<use href="#mc" x="1463.5" y="595.9"/>
<use href="#mx" x="1427.7" y="217"/>
<use href="#mx" x="1444.1" y="321.4"/>
<use href="#mx" x="1430.7" y="345.3"/>
<use href="#mx" x="1523.2" y="578"/>
<use href="#mx" x="1556" y="582.5"/>
<use href="#mx" x="1591.8" y="582.5"/>
<path d="M1416 826.2 1419 829.2" stroke="#9467bd" stroke-width="50"/>
<path d="M1514.5 835.1 1538.3 838.1" stroke="#7f7f7f" stroke-width="40"/>
<path d="M1466.7 859 1496.6 882.9 1526.4 903.8" stroke="#9467bd" stroke-width="60"/>
<path d="M1642.8 888.8 1687.5 918.7 1717.3 933.6" stroke="#9467bd" stroke-width="60"/>
<circle cx="1523.4" cy="873.9" r="20.5" stroke="#7f7f7f" stroke-width="17"/>
<path d="M1523.4 873.9 1544.3 900.8 1568.2 930.6" stroke="#7f7f7f" stroke-width="56"/>
<path d="M1562.2 823.2 1583.1 859 1607 906.7 1627.8 942.5 1645.7 972.4" stroke="#bcbd22" stroke-width="66"/>
<path d="M1642.8 847.1 1687.5 873.9 1732.3 903.8" stroke="#e377c2" stroke-width="66"/>
<path d="M1275.8 778.5 1314.6 787.4" stroke="#e377c2" stroke-width="40"/>
<use href="#mx" x="1308" y="773.1"/>
<use href="#mx" x="1349.8" y="770.1"/>
<use href="#mx" x="1382.6" y="776.1"/>
<use href="#mx" x="1397.5" y="785"/>
<use href="#mx" x="1415.4" y="814.9"/>
<use href="#mx" x="1478.1" y="820.8"/>
<path d="M1344.4 709.8 1419 724.8 1478.7 754.6 1493.6 799.3 1478.7 835.1" stroke="#17becf" stroke-width="70"/>
<path d="M1329.5 739.7 1389.2 757.6 1448.8 787.4 1472.7 817.2" stroke="#17becf" stroke-width="70"/>
<path d="M1508.5 709.8 1568.2 739.7 1612.9 769.5 1627.8 799.3" stroke="#17becf" stroke-width="70"/>
<path d="M1538.3 769.5 1583.1 793.4" stroke="#17becf" stroke-width="60"/>
<path d="M1657.7 769.5 1687.5 799.3 1717.3 814.3" stroke="#17becf" stroke-width="60"/>
<use href="#mx" x="1565.2" y="918.7"/>
<use href="#mx" x="1647.2" y="963.4"/>
<use href="#mx" x="1705.4" y="915.7"/>
<use href="#mx" x="1771" y="894.8"/>
<use href="#mx" x="1747.2" y="936.6"/>
<path d="M1534.3 566.9 1564.1 569.8" stroke="#9467bd" stroke-width="50"/>
<path d="M1593.9 578.8 1623.8 584.8" stroke="#2ca02c" stroke-width="30"/>
<path d="M1668.5 617.6 1728.2 620.6 1758 599.7" stroke="#ff7f0e" stroke-width="60"/>
<path d="M1698.3 659.3 1728.2 665.3" stroke="#8c564b" stroke-width="70"/>
<path d="M1608.8 614.6 1638.7 629.5 1653.6 659.3" stroke="#bcbd22" stroke-width="70"/>
<path d="M1579 599.7 1608.8 593.7" stroke="#bcbd22" stroke-width="60"/>
<path d="M1772.9 644.4 1817.7 653.4 1847.5 683.2 1862.4 707.1" stroke="#bcbd22" stroke-width="70"/>
<path d="M1772.9 668.3 1802.8 689.2 1832.6 713" stroke="#bcbd22" stroke-width="70"/>
<circle cx="1656.6" cy="596.7" r="20.5" stroke="#bcbd22" stroke-width="17"/>
<circle cx="1680.4" cy="596.7" r="20.5" stroke="#bcbd22" stroke-width="17"/>
<circle cx="1701.3" cy="596.7" r="20.5" stroke="#bcbd22" stroke-width="17"/>
<circle cx="1725.2" cy="596.7" r="20.5" stroke="#bcbd22" stroke-width="17"/>
<circle cx="1796.8" cy="596.7" r="20.5" stroke="#bcbd22" stroke-width="17"/>
<circle cx="1817.7" cy="596.7" r="20.5" stroke="#bcbd22" stroke-width="17"/>
<circle cx="1838.6" cy="596.7" r="20.5" stroke="#bcbd22" stroke-width="17"/>
<circle cx="1859.4" cy="596.7" r="20.5" stroke="#bcbd22" stroke-width="17"/>
<path d="M1752 590.7 1775.9 593.7" stroke="#bcbd22" stroke-width="40"/>
<path d="M1409 823.4 1417.9 826.4" stroke="#9467bd" stroke-width="56"/>
<path d="M1474.6 856.2 1519.3 874.1 1564.1 892" stroke="#9467bd" stroke-width="60"/>
<path d="M1519.3 838.3 1537.2 868.2 1555.1 898" stroke="#7f7f7f" stroke-width="60"/>
<path d="M1638.7 838.3 1698.3 862.2 1743.1 883.1" stroke="#e377c2" stroke-width="60"/>
<path d="M1668.5 883.1 1713.3 898" stroke="#e377c2" stroke-width="60"/>
<path d="M1579 823.4 1593.9 853.3 1608.8 883.1" stroke="#bcbd22" stroke-width="70"/>
<path d="M1907.2 772.7 1931 808.5" stroke="#8c564b" stroke-width="60"/>
<path d="M1922.1 742.9 1937 748.8" stroke="#2ca02c" stroke-width="40"/>
<path d="M1892.3 728 1895.2 730.9" stroke="#7f7f7f" stroke-width="40"/>
<path d="M1862.4 829.4 1892.3 832.4" stroke="#1f77b4" stroke-width="30"/>
<use href="#mx" x="1614.8" y="593.7"/>
<use href="#mx" x="1758" y="593.7"/>
<use href="#mx" x="1847.5" y="596.7"/>
<use href="#mx" x="1555.1" y="817.5"/>
<path d="M1400 719 1489.5 733.9 1579 748.8 1668.5 733.9 1728.2 719 1787.8 733.9 1847.5 763.8 1892.3 793.6 1901.2 814.5" stroke="#17becf" stroke-width="60"/>
<path d="M1400 689.2 1489.5 695.1 1579 707.1 1638.7 719" stroke="#17becf" stroke-width="60"/>
<path d="M1400 748.8 1489.5 763.8 1579 778.7 1668.5 766.7 1728.2 748.8 1787.8 760.8 1847.5 787.6 1877.3 808.5" stroke="#17becf" stroke-width="60"/>
<path d="M1400 778.7 1489.5 793.6 1579 802.5 1668.5 793.6 1758 778.7" stroke="#17becf" stroke-width="60"/>
<path d="M1444.8 808.5 1519.3 820.4 1579 817.5" stroke="#17becf" stroke-width="60"/>
<path d="M1400 659.3 1489.5 665.3 1549.2 674.3" stroke="#17becf" stroke-width="60"/>
<path d="M1400 629.5 1459.7 635.5 1519.3 644.4" stroke="#17becf" stroke-width="60"/>
<path d="M1743.1 808.5 1772.9 817.5" stroke="#bcbd22" stroke-width="40"/>
<use href="#mx" x="1722.2" y="725"/>
<path d="M1731.9 653.7 1743.9 674.6" stroke="#8c564b" stroke-width="70"/>
<use href="#mx" x="1878.1" y="737.2"/>
<path d="M1779.7 644.8 1809.5 659.7 1839.3 689.5 1854.3 713.4" stroke="#bcbd22" stroke-width="80"/>
<path d="M1764.8 659.7 1794.6 689.5 1824.4 713.4" stroke="#bcbd22" stroke-width="80"/>
<path d="M1878.1 737.2 1931.2 684.1" stroke="#ff0000" stroke-width="12.5" stroke-linecap="butt"/>
<path d="M1878.1 737.2 1930.3 789.4" stroke="#ff0000" stroke-width="12.5" stroke-linecap="butt"/>
<path d="M1869.2 826.7 1913.9 814.8 1973.6 796.9 2003.4 820.8 2048.2 835.7" stroke="#1f77b4" stroke-width="50"/>
<path d="M1952.7 758.1 1988.5 767.1" stroke="#000" stroke-width="8.3"/>
<path d="M1952.7 758.1 1988.5 767.1" stroke="#2ca02c" stroke-opacity=".3" stroke-width="25"/>
<path d="M1925.9 746.2 1934.8 752.2" stroke="#2ca02c" stroke-width="50"/>
<path d="M1890.1 731.3 1893 734.3" stroke="#7f7f7f" stroke-width="30"/>
<path d="M1899 761.1 1928.8 785 1952.7 802.9" stroke="#8c564b" stroke-width="66"/>
<path d="M2048.2 820.8 1994.5 873.9" stroke="#ff0000" stroke-width="12.5" stroke-linecap="butt"/>
<path d="M2048.2 820.8 2101.9 873.9" stroke="#ff0000" stroke-width="12.5" stroke-linecap="butt"/>
<path d="M2048.2 820.8 2101.9 767.7" stroke="#ff0000" stroke-width="12.5" stroke-linecap="butt"/>
<path d="M2015.4 752.2 2033.3 773 2063.1 793.9 2092.9 814.8 2122.8 829.7 2143.6 838.7" stroke="#2ca02c" stroke-width="66"/>
<path d="M2006.4 767.1 2018.3 788" stroke="#2ca02c" stroke-width="66"/>
<path d="M2072 796.9 2101.9 767.7" stroke="#ff0000" stroke-width="12.5" stroke-linecap="butt"/>
<use href="#mx" x="1891.5" y="793.9"/>
<path d="M1749.8 719.3 1809.5 743.2 1854.3 767.1 1887.1 802.9" stroke="#17becf" stroke-width="70"/>
<path d="M1720 749.2 1779.7 767.1 1839.3 796.9 1875.1 814.8" stroke="#17becf" stroke-width="70"/>
<use href="#mx" x="2140.7" y="835.7"/>
<use href="#mx" x="703.9" y="450.4"/>
<use href="#mx" x="728.2" y="439.3"/>
<path d="M803.3 348.7 823.2 368.6" stroke="#ff0000" stroke-width="12.5" stroke-linecap="butt"/>
<path d="M909.4 348.7 889.5 368.6" stroke="#ff0000" stroke-width="12.5" stroke-linecap="butt"/>
<path d="M958 401.8 975.7 419.4" stroke="#ff0000" stroke-width="12.5" stroke-linecap="butt"/>
<path d="M995.6 421.7 1000 417.2" stroke="#ff0000" stroke-width="12.5" stroke-linecap="butt"/>
<use href="#mx" x="478.5" y="775"/>
<use href="#mc" x="1149.5" y="741.7"/>
<use href="#mc" x="1289.7" y="758.1"/>
<use href="#mc" x="1227.1" y="749.2"/>
<use href="#mc" x="1143.5" y="635.8"/>
</g>
<g font-family="'DejaVu Sans', 'Liberation Sans', sans-serif" font-size="58.33" fill="#000" text-anchor="middle">
<text x="484.4" y="667.4">45</text>
<text x="468" y="755.4">186</text>
<text x="588.8" y="753.9">51</text>
<text x="526.2" y="646.5">2</text>
<text x="478.5" y="792.7">15</text>
<text x="499.3" y="688.3">49</text>
<text x="547.1" y="706.2">199</text>
<text x="627.6" y="724.1">113</text>
<text x="565" y="604.8">11</text>
<text x="600.8" y="595.8">176</text>
<text x="693.3" y="536.2">26</text>
<text x="681.3" y="551.1">29</text>
<text x="708.2" y="554.1">61</text>
<text x="723.1" y="572">47</text>
<text x="681.3" y="466.6">112</text>
<text x="711.2" y="455.6">29</text>
<text x="770.8" y="469">180</text>
<text x="841.4" y="842.7">213</text>
<text x="848.9" y="762.1">186</text>
<text x="959.3" y="756.2">76</text>
<text x="1160.7" y="818.8">162</text>
<text x="1005.5" y="714.4">42</text>
<text x="1062.2" y="780">112</text>
<text x="1098" y="783">148</text>
<text x="1151.7" y="759.1">130</text>
<text x="1172.6" y="687.5">54</text>
<text x="1184.5" y="729.3">24</text>
<text x="1247.2" y="756.2">192</text>
<text x="1187.5" y="675.6">5</text>
<text x="1176.2" y="264.6">145</text>
<text x="1158.3" y="324.2">55</text>
<text x="1209.1" y="333.2">157</text>
<text x="1310.5" y="309.3">58</text>
<text x="1325.4" y="330.2">87</text>
<text x="1203.1" y="357">160</text>
<text x="1301.5" y="363">201</text>
<text x="1221" y="401.8">108</text>
<text x="1289.6" y="398.8">30</text>
<text x="1337.3" y="431.6">114</text>
<text x="1089.7" y="422.7">88</text>
<text x="1116.6" y="419.7">136</text>
<text x="1137.5" y="434.6">122</text>
<text x="1009.2" y="467.4">10</text>
<text x="934.6" y="491.3">27</text>
<text x="1000.2" y="491.3">71</text>
<text x="1045" y="491.3">38</text>
<text x="1074.8" y="491.3">7</text>
<text x="1122.5" y="500.2">39</text>
<text x="1209.1" y="494.3">37</text>
<text x="1277.7" y="506.2">81</text>
<text x="1349.3" y="536">189</text>
<text x="1045" y="536">169</text>
<text x="1098.7" y="536">91</text>
<text x="1143.4" y="545">122</text>
<text x="1188.2" y="545">76</text>
<text x="1232.9" y="551">148</text>
<text x="889.8" y="416.7">205</text>
<text x="877.9" y="419.7">175</text>
<text x="889.8" y="464.4">110</text>
<text x="1307.5" y="237.7">206</text>
<text x="1429.9" y="237.6">158</text>
<text x="1444.9" y="334.6">196</text>
<text x="1450.8" y="364.4">100</text>
<text x="1564.2" y="289.9">45</text>
<text x="1579.1" y="424.1">204</text>
<text x="1582.1" y="425.6">205</text>
<text x="1486.6" y="522.6">196</text>
<text x="1397.1" y="409.2">61</text>
<text x="1385.2" y="448">4</text>
<text x="1203.2" y="486.8">32</text>
<text x="1418" y="343.6">211</text>
<text x="1565.2" y="936.4">153</text>
<text x="1647.2" y="981.1">174</text>
<text x="1615.9" y="882.7">150</text>
<text x="1696.5" y="876.7">44</text>
<text x="1705.4" y="930.4">90</text>
<text x="1771" y="912.5">34</text>
<text x="1475.7" y="834.9">75</text>
<text x="1389.2" y="829">40</text>
<text x="1425" y="829">36</text>
<text x="1430.9" y="784.2">139</text>
<text x="1598" y="757.4">264</text>
<text x="1627.8" y="829">74</text>
<text x="1699.4" y="846.9">73</text>
<text x="1687.5" y="775.3">16</text>
<text x="1687.5" y="814.1">11</text>
<text x="1484.6" y="724.6">192</text>
<text x="1556.2" y="718.6">72</text>
<text x="1299.7" y="799.1">214</text>
<text x="1269.8" y="766.3">98</text>
<text x="1614.8" y="611.4">62</text>
<text x="1758" y="611.4">36</text>
<text x="1847.5" y="614.4">177</text>
<text x="1722.2" y="742.7">210</text>
<text x="1877.9" y="754">149</text>
<text x="1698.3" y="683">24</text>
<text x="1737.1" y="778.5">16</text>
<text x="1865.4" y="811.3">64</text>
<text x="1555.1" y="671.1">40</text>
<text x="1573" y="689">71</text>
<text x="1489.5" y="727.8">152</text>
<text x="1543.2" y="805.3">94</text>
<text x="1585" y="805.3">128</text>
<text x="1769.9" y="820.2">184</text>
<text x="1817.7" y="817.3">56</text>
<text x="1692.4" y="856">103</text>
<text x="1549.2" y="629.3">8</text>
<text x="1555.1" y="593.5">97</text>
<text x="2048.2" y="838.5">20</text>
<text x="2140.7" y="853.4">50</text>
<text x="1779.7" y="778.8">189</text>
<text x="1743.9" y="737">10</text>
<text x="1758.8" y="811.6">185</text>
<text x="941.6" y="645.2">138</text>
<text x="738.3" y="651.6">130</text>
<text x="1155.4" y="635.1">150</text>
<text x="1006.1" y="643.3">12</text>
<text x="1025.9" y="626.3">175</text>
<text x="814.9" y="643.7">164</text>
<text x="1285.2" y="617.5">199</text>
<text x="933" y="650.2">117</text>
<text x="975" y="660.8">21</text>
<text x="1163.4" y="660.7">187</text>
<text x="1052.2" y="661.3">43</text>
<text x="1246.4" y="642.2">210</text>
<text x="893.9" y="637.4">17</text>
<text x="708.7" y="616.6">211</text>
<text x="848.1" y="652.1">128</text>
<text x="726.3" y="636.6">141</text>
<text x="861.5" y="639.9">2</text>
<text x="783.9" y="647.7">157</text>
<text x="1156.2" y="620.3">174</text>
<text x="1425.8" y="625.3">144</text>
<text x="746.6" y="665.9">54</text>
<text x="1156.6" y="641.4">158</text>
<text x="677.6" y="651.4">65</text>
<text x="757.1" y="649.6">120</text>
<text x="782.5" y="655.1">178</text>
<text x="1122.4" y="624.4">179</text>
<text x="1403.2" y="622.4">139</text>
<text x="852.4" y="664.5">195</text>
<text x="1409.6" y="627.2">133</text>
<text x="1091.1" y="631.5">203</text>
<text x="902.3" y="634.3">115</text>
<text x="953.9" y="673.2">1</text>
<text x="1079.3" y="641">205</text>
<text x="998.9" y="657.8">112</text>
<text x="1010.2" y="679.6">186</text>
<text x="795.6" y="683.8">120</text>
<text x="1386.5" y="631.8">90</text>
<text x="793" y="693.7">186</text>
<text x="1230" y="639.1">112</text>
<text x="843.3" y="655.3">140</text>
<text x="1060.5" y="629.8">133</text>
<text x="1027.3" y="625.1">135</text>
<text x="1106.8" y="641.5">156</text>
<text x="658.5" y="675">186</text>
<text x="741.5" y="680.7">8</text>
<text x="1197.1" y="632.5">137</text>
<text x="1118" y="626.1">144</text>
<text x="843.2" y="678.9">184</text>
<text x="1068.9" y="662.2">25</text>
<text x="1036.9" y="639.2">82</text>
<text x="736.6" y="671.2">87</text>
<text x="671" y="641.6">17</text>
<text x="754.9" y="639.4">59</text>
<text x="769.7" y="691.1">67</text>
<text x="1014.3" y="629.6">132</text>
<text x="705.9" y="652.2">5</text>
<text x="955.1" y="651.8">69</text>
<text x="1282.9" y="633">80</text>
<text x="1049.4" y="654.4">70</text>
<text x="1075.2" y="665.6">111</text>
<text x="1236" y="650.6">130</text>
<text x="927.4" y="651.5">181</text>
<text x="1530.7" y="630.8">4</text>
<text x="717.6" y="659.1">22</text>
<text x="1102.8" y="650.8">178</text>
<text x="914.4" y="661.7">68</text>
<text x="977.3" y="663.5">141</text>
<text x="816.9" y="669.5">168</text>
<text x="832.9" y="662.6">2</text>
<text x="735.4" y="677.1">101</text>
<text x="674.9" y="686.1">60</text>
<text x="729.8" y="666.9">184</text>
<text x="1348.9" y="624.5">185</text>
<text x="1394.2" y="626.1">36</text>
<text x="1460.3" y="601.8">209</text>
<text x="1367.1" y="645.1">178</text>
<text x="692" y="638.9">27</text>
<text x="988.3" y="650.3">137</text>
<text x="657.9" y="663.8">192</text>
<text x="696.4" y="670.5">85</text>
<text x="879.7" y="677">78</text>
<text x="847.7" y="649.4">120</text>
<text x="1061.2" y="631.3">116</text>
<text x="734.9" y="657.2">155</text>
<text x="1380.9" y="641.3">181</text>
<text x="978.2" y="660">41</text>
<text x="658.2" y="645.6">116</text>
<text x="1013.8" y="631.9">31</text>
<text x="1474.9" y="631.1">75</text>
<text x="1000.3" y="680.9">194</text>
<text x="745" y="681.6">74</text>
<text x="934.3" y="653.9">8</text>
<text x="1373.6" y="616">142</text>
<text x="698.3" y="678.6">88</text>
<text x="904.3" y="666.3">190</text>
<text x="803.1" y="667.6">128</text>
<text x="949.6" y="686.7">110</text>
<text x="778.5" y="673.3">24</text>
<text x="937.6" y="658.5">208</text>
<text x="1159.1" y="627.1">135</text>
<text x="840.9" y="664.8">193</text>
<text x="709.9" y="671.5">129</text>
<text x="1123.4" y="639.4">24</text>
<text x="894.9" y="634.7">80</text>
<text x="683.5" y="676.1">206</text>
<text x="1073.8" y="658.7">212</text>
<text x="1052.3" y="644.2">58</text>
<text x="791.6" y="635.3">185</text>
<text x="730.2" y="670.6">146</text>
<text x="768.3" y="657.4">163</text>
<text x="1042.1" y="655.7">150</text>
<text x="824.7" y="664.8">203</text>
<text x="921.8" y="676">63</text>
<text x="873.6" y="645.2">181</text>
<text x="826.8" y="649.5">59</text>
<text x="685.2" y="653.4">108</text>
<text x="975.7" y="662.2">130</text>
<text x="714.7" y="660.5">52</text>
<text x="930.9" y="651.3">195</text>
<text x="1206.9" y="646.2">125</text>
<text x="1024.1" y="654.3">101</text>
<text x="1052.9" y="641.3">81</text>
<text x="1303.5" y="628.7">135</text>
<text x="985.9" y="657">44</text>
<text x="726.5" y="680.8">195</text>
<text x="838.6" y="636.9">211</text>
<text x="928.2" y="674.4">51</text>
<text x="984.9" y="661.5">50</text>
<text x="941.1" y="623.9">64</text>
<text x="896" y="655.7">158</text>
<text x="693.6" y="641.2">77</text>
<text x="1466.1" y="634.5">122</text>
<text x="1342.1" y="632.3">209</text>
<text x="1365.3" y="632.3">84</text>
<text x="1348.7" y="613">101</text>
<text x="1522.5" y="622.1">25</text>
<text x="1027.6" y="652.2">115</text>
<text x="1062.9" y="645.6">199</text>
<text x="874" y="676.6">40</text>
<text x="904" y="653.6">65</text>
<text x="1370.5" y="634">27</text>
<text x="659" y="665.4">96</text>
<text x="690.7" y="685.9">31</text>
<text x="699.6" y="667.5">20</text>
<text x="984.4" y="637.3">115</text>
<text x="1188.7" y="656.7">182</text>
<text x="835.5" y="655.3">154</text>
<text x="1303" y="638.2">96</text>
<text x="818.9" y="635.7">53</text>
<text x="682.8" y="637.4">204</text>
<text x="1004.8" y="648.2">164</text>
<text x="895" y="641.6">14</text>
<text x="931.4" y="633.1">92</text>
<text x="1333.5" y="621">2</text>
<text x="1162" y="648">44</text>
<text x="751.3" y="651.4">207</text>
<text x="925.2" y="615">78</text>
<text x="685.6" y="618.3">124</text>
<text x="753.2" y="610.3">163</text>
<text x="779.6" y="617.4">159</text>
<text x="887.8" y="617.1">164</text>
<text x="922.9" y="601">104</text>
<text x="861.3" y="600.4">122</text>
<text x="705.9" y="600.9">103</text>
<text x="977.9" y="599.5">92</text>
<text x="684.3" y="601.6">186</text>
<text x="933.6" y="600.3">144</text>
<text x="943.3" y="611.8">171</text>
<text x="941.8" y="598.5">154</text>
<text x="804.1" y="616.1">200</text>
<text x="750.2" y="605.8">150</text>
<text x="729.7" y="605">95</text>
<text x="800.8" y="606.2">6</text>
<text x="641.3" y="619.4">120</text>
<text x="724.7" y="614">200</text>
<text x="934.8" y="615.8">208</text>
<text x="810.4" y="598.3">33</text>
<text x="769.1" y="604.5">206</text>
<text x="1176.8" y="543.8">11</text>
<text x="1016.3" y="502">188</text>
<text x="1125.5" y="566.9">21</text>
<text x="1021.7" y="543.1">97</text>
<text x="1261.1" y="574">7</text>
<text x="1342.8" y="597.3">188</text>
<text x="1277" y="499.8">34</text>
<text x="1392.7" y="541.8">208</text>
<text x="1366.4" y="505.9">202</text>
<text x="1288.4" y="512">214</text>
<text x="1140.4" y="570.9">41</text>
<text x="1129.5" y="555.2">209</text>
<text x="1182.6" y="515.7">123</text>
<text x="1083.3" y="516.6">130</text>
<text x="1139.3" y="710.6">51</text>
<text x="1125.5" y="694.8">72</text>
<text x="1249.9" y="749.9">44</text>
<text x="1278" y="702.5">197</text>
<text x="1212.7" y="730.4">93</text>
<text x="1321.5" y="716.7">134</text>
<text x="1225" y="748.9">27</text>
<text x="1143" y="722.9">101</text>
<text x="1264.5" y="710.6">97</text>
<text x="1327.6" y="726">93</text>
<text x="1406.1" y="679.9">59</text>
<text x="1370.7" y="779.2">13</text>
<text x="1398.2" y="745.1">80</text>
<text x="1477" y="815.3">150</text>
<text x="1543.5" y="802.1">188</text>
<text x="1330.4" y="672.8">39</text>
<text x="1396.9" y="761.5">107</text>
<text x="1447.9" y="802">34</text>
<text x="1442.3" y="759.6">12</text>
<text x="1335.1" y="668.1">91</text>
<text x="791.1" y="581.2">137</text>
<text x="767.3" y="584">151</text>
<text x="740.1" y="574.2">213</text>
<text x="842.5" y="563.8">206</text>
<text x="773.1" y="564.4">25</text>
<text x="719.1" y="564.2">171</text>
<text x="1039" y="545.9">68</text>
<text x="1090.8" y="504.4">211</text>
<text x="977.5" y="539.7">166</text>
<text x="982" y="569.9">133</text>
<text x="1025.4" y="527.5">1</text>
<text x="832.3" y="561.5">104</text>
<text x="872" y="516.8">200</text>
<text x="849.4" y="571.2">169</text>
<text x="1083.5" y="514.8">52</text>
<text x="965.1" y="574.8">166</text>
<text x="999.6" y="595.3">45</text>
<text x="962.4" y="505.4">161</text>
<text x="833.6" y="604.4">201</text>
<text x="953.8" y="562.3">97</text>
<text x="1056.4" y="587.1">120</text>
<text x="842.5" y="576.4">45</text>
<text x="883.3" y="510.3">60</text>
<text x="1000.3" y="512.5">192</text>
</g>
</g>
</g>
<rect x="328.2" y="107.1" width="148.5" height="145.5" fill="#cccccc"/><text x="352.5" y="208.2" font-family="'DejaVu Serif', 'Liberation Serif', serif" font-size="100" fill="#000">a)</text>
<rect x="311.5" y="91.4" width="1949" height="1070" fill="none" stroke="#000" stroke-width="6.67"/>
<g font-family="'DejaVu Sans', 'Liberation Sans', sans-serif" font-size="83.33" fill="#000">
<text x="269.8" y="123.8" text-anchor="end">60°N</text>
<text x="269.8" y="387.1" text-anchor="end">30°N</text>
<text x="269.8" y="650.3" text-anchor="end">0°</text>
<text x="269.8" y="913.5" text-anchor="end">30°S</text>
<text x="269.8" y="1176.8" text-anchor="end">60°S</text>
<text x="320.6" y="1268" text-anchor="middle">30°E</text>
<text x="671.6" y="1268" text-anchor="middle">70°E</text>
<text x="1022.6" y="1268" text-anchor="middle">110°E</text>
<text x="1373.6" y="1268" text-anchor="middle">150°E</text>
<text x="1724.6" y="1268" text-anchor="middle">170°W</text>
<text x="2075.6" y="1268" text-anchor="middle">130°W</text>
</g>
<g transform="translate(0 1275)">
<g clip-path="url(#cp)">
<use href="#coast"/>
<use href="#grid"/>
<g fill="none" stroke-linecap="round" stroke-linejoin="round">
<rect x="890.4" y="563.3" width="482.6" height="150.9" fill="#008000" fill-opacity=".2" stroke="none"/>
<path d="M1306 400.4 1297.7 481.6 1113.7 483.9" stroke="#000" stroke-width="8.3"/>
<path d="M1306 400.4 1297.7 481.6 1113.7 483.9" stroke="#ff7f0e" stroke-opacity=".3" stroke-width="25"/>
<path d="M993.9 433.3 994.2 433.6" stroke="#1f77b4" stroke-width="54"/>
<path d="M723.9 472.1 717.9 498.9 720.9 519.8" stroke="#1f77b4" stroke-width="54"/>
<path d="M956.6 437.8 998.3 439.3" stroke="#ff7f0e" stroke-width="20"/>
<path d="M646.3 495.9 670.2 478 688.1 466.1 706 460.1" stroke="#2ca02c" stroke-width="56"/>
<path d="M655.2 513.8 682.1 501.9" stroke="#2ca02c" stroke-width="56"/>
<circle cx="711.9" cy="510.9" r="20.5" stroke="#1f77b4" stroke-width="17"/>
<use href="#mx" x="688.7" y="468.8"/>
<path d="M870.1 403.5 879 409.4" stroke="#2ca02c" stroke-width="54"/>
<path d="M801.4 430.3 804.4 431.8" stroke="#2ca02c" stroke-width="40"/>
<use href="#mx" x="805.3" y="452.1"/>
<use href="#mx" x="826.2" y="443.1"/>
<use href="#mx" x="870.7" y="414.8"/>
<path d="M932.7 454.2 968.5 460.1 1028.2 463.1 1087.8 462.5 1117.7 463.1 1138.6 472.1 1159.4 484 1177.3 498.9" stroke="#9467bd" stroke-width="54"/>
<path d="M735.8 495.9 738.8 513.8" stroke="#9467bd" stroke-width="40"/>
<path d="M956.6 476.5 998.3 478 1028.2 484" stroke="#8c564b" stroke-width="40"/>
<use href="#mx" x="921.4" y="458"/>
<path d="M840.2 421.4 867.1 424.3 890.9 436.3 908.8 448.2" stroke="#e377c2" stroke-width="54"/>
<path d="M768.6 472.1 753.7 484 747.7 498.9" stroke="#e377c2" stroke-width="54"/>
<path d="M1132.6 561.6 1162.4 567.5 1192.3 570.5 1222.1 567.5 1240 564.6" stroke="#ff7f0e" stroke-width="54"/>
<path d="M1087.8 555.6 1111.7 558.6" stroke="#8c564b" stroke-width="50"/>
<path d="M1037.1 543.7 1072.9 546.7" stroke="#9467bd" stroke-width="50"/>
<path d="M1037.1 484 1087.8 484 1132.6 487 1177.3 501.9 1222.1 519.8 1240 525.8" stroke="#e377c2" stroke-width="54"/>
<path d="M1028.2 525.8 1087.8 531.7 1132.6 534.7 1177.3 540.7 1222.1 549.6 1240 552.6" stroke="#e377c2" stroke-width="54"/>
<path d="M1037.1 507.9 1087.8 507.9 1147.5 513.8 1207.2 531.7 1240 540.7" stroke="#e377c2" stroke-width="54"/>
<path d="M867.1 513.8 885 537.7 902.9 555.6 926.7 564.6 968.5 573.5 986.4 579.5" stroke="#e377c2" stroke-width="54"/>
<path d="M926.7 573.5 920.8 603.3 914.8 627.2" stroke="#1f77b4" stroke-width="54"/>
<path d="M914.8 561.6 911.8 588.4 917.8 615.3" stroke="#2ca02c" stroke-width="40"/>
<path d="M855.1 537.7 879 573.5 890.9 597.4" stroke="#7f7f7f" stroke-width="20"/>
<path d="M825.3 460.1 849.2 472.1 879 484 908.8 495.9 932.7 513.8" stroke="#17becf" stroke-width="54"/>
<path d="M744.8 513.8 774.6 507.9 804.4 495.9 834.3 484" stroke="#17becf" stroke-width="54"/>
<path d="M738.8 543.7 774.6 531.7 819.3 519.8 855.1 501.9" stroke="#17becf" stroke-width="54"/>
<path d="M717.9 573.5 759.7 561.6 819.3 573.5 855.1 588.4 879 603.3" stroke="#17becf" stroke-width="54"/>
<path d="M711.9 603.3 759.7 603.3 819.3 618.3 867.1 633.2" stroke="#17becf" stroke-width="54"/>
<path d="M700 633.2 759.7 633.2 819.3 639.1 879 648.1" stroke="#17becf" stroke-width="54"/>
<path d="M1034.1 498.9 1052 513.8 1064 531.7" stroke="#17becf" stroke-width="50"/>
<path d="M986.4 524.3 986.7 524.6" stroke="#e377c2" stroke-width="40"/>
<circle cx="986.4" cy="524.3" r="21.5" stroke="#17becf" stroke-width="17"/>
<circle cx="920.8" cy="510.9" r="21.5" stroke="#17becf" stroke-width="17"/>
<path d="M729.8 663 789.5 660 867.1 657" stroke="#bcbd22" stroke-width="40"/>
<use href="#mx" x="886.5" y="478"/>
<use href="#mx" x="981.9" y="570.5"/>
<use href="#mx" x="1052" y="498.9"/>
<use href="#mx" x="876.6" y="590.5"/>
<path d="M627.1 505.9 630.1 506.5" stroke="#ff7f0e" stroke-width="40"/>
<use href="#mx" x="631.5" y="517.8"/>
<path d="M603.2 538.7 627.1 520.8 662.9 508.9 686.7 496.9" stroke="#2ca02c" stroke-width="54"/>
<path d="M668.8 523.8 674.8 502.9" stroke="#2ca02c" stroke-width="54"/>
<path d="M713.6 511.9 716.6 514.8" stroke="#1f77b4" stroke-width="40"/>
<path d="M686.7 552.1 695.7 553.6" stroke="#e377c2" stroke-width="50"/>
<path d="M570.4 613.3 573.4 613.9" stroke="#8c564b" stroke-width="54"/>
<path d="M549.5 652.1 552.5 661" stroke="#d62728" stroke-width="54"/>
<path d="M600.2 664 627.1 675.9" stroke="#e377c2" stroke-width="40"/>
<use href="#mc" x="577.8" y="605.8"/>
<use href="#mc" x="558.5" y="650.6"/>
<use href="#mc" x="622.6" y="661"/>
<use href="#mc" x="662.9" y="675.9"/>
<path d="M656.9 690.9 686.7 693.8" stroke="#7f7f7f" stroke-width="50"/>
<path d="M844.9 693.8 850.8 705.8" stroke="#7f7f7f" stroke-width="50"/>
<use href="#mx" x="818.6" y="685.5"/>
<path d="M674.8 711.7 728.5 717.7 788.2 723.7 818 735.6" stroke="#bcbd22" stroke-width="54"/>
<path d="M713.6 753.5 728.5 777.4" stroke="#bcbd22" stroke-width="54"/>
<path d="M749.4 749 764.3 771.4 782.2 807.2 803.1 843" stroke="#7f7f7f" stroke-width="52"/>
<use href="#mc" x="850.8" y="652.1"/>
<path d="M615.1 574.5 668.8 580.5 728.5 583.5 758.3 574.5" stroke="#17becf" stroke-width="54"/>
<path d="M621.1 598.4 668.8 610.3 728.5 616.3 788.2 613.3 847.8 604.3" stroke="#17becf" stroke-width="54"/>
<path d="M627.1 640.1 668.8 646.1 728.5 652.1 788.2 652.1 847.8 652.1 877.7 658" stroke="#17becf" stroke-width="54"/>
<path d="M639 664 698.7 670 758.3 667" stroke="#17becf" stroke-width="54"/>
<path d="M734.5 550.6 758.3 544.7 788.2 550.6 832.9 568.5 856.8 583.5" stroke="#17becf" stroke-width="54"/>
<path d="M758.3 520.8 803.1 529.8" stroke="#17becf" stroke-width="50"/>
<path d="M728.5 670 758.3 671.5 788.2 670" stroke="#bcbd22" stroke-width="30"/>
<use href="#mc" x="772.7" y="592.4"/>
<use href="#mc" x="749.4" y="749"/>
<use href="#mx" x="803.7" y="845.7"/>
<path d="M1128.5 565.6 1158.3 574.5 1203.1 576 1247.8 571.5 1292.6 568.5 1319.4 562.6" stroke="#ff7f0e" stroke-width="56"/>
<path d="M1247.8 559.6 1292.6 556.6 1322.4 532.7 1337.3 520.8" stroke="#8c564b" stroke-width="60"/>
<path d="M1068.8 553.6 1098.7 556.6 1116.6 555.1" stroke="#8c564b" stroke-width="50"/>
<use href="#mc" x="1098.4" y="545.3"/>
<path d="M1068.8 502.9 1128.5 508.9 1188.2 520.8 1232.9 535.7 1256.8 544.7" stroke="#e377c2" stroke-width="60"/>
<path d="M1098.7 529.8 1158.3 538.7 1218 547.7 1247.8 549.1" stroke="#e377c2" stroke-width="60"/>
<path d="M850 663 867.6 682.5 887.5 712.3 927.3 732.2 967.1 752.1 1006.9 777 1056.6 786.9 1101.4 777 1126.2 762" stroke="#bcbd22" stroke-width="56"/>
<use href="#mx" x="1101.1" y="749"/>
<path d="M1244.9 729.6 1286.6 741.6" stroke="#000" stroke-width="8.3"/>
<path d="M1244.9 729.6 1286.6 741.6" stroke="#d62728" stroke-opacity=".3" stroke-width="25"/>
<path d="M1182.2 753.5 1203.1 732.6 1227 720.7" stroke="#d62728" stroke-width="60"/>
<path d="M1307.5 750.5 1337.3 738.6 1367.2 726.7 1391 720.7" stroke="#d62728" stroke-width="60"/>
<use href="#mx" x="1188.2" y="749"/>
<path d="M1412 219.7 1385.5 244.6 1352.4 271.1 1319.2 297.6 1292.7 320.8 1279.4 347.3 1282.8 373.8 1299.3 397" stroke="#ff7f0e" stroke-width="56"/>
<use href="#mx" x="1408.7" y="218"/>
<path d="M1461.8 304.2 1451.8 330.7 1441.9 363.9 1435.2 397 1431.9 430.2 1435.2 456.7 1445.2 479.9 1465.1 499.8 1485 516.4" stroke="#ff7f0e" stroke-width="56"/>
<use href="#mx" x="1455.1" y="279.4"/>
<circle cx="1292.7" cy="481.6" r="20.5" stroke="#ff7f0e" stroke-width="17"/>
<circle cx="1304.3" cy="479.9" r="20.5" stroke="#ff7f0e" stroke-width="17"/>
<path d="M1461.8 446.8 1597.7 503.1" stroke="#000" stroke-width="8.3"/>
<path d="M1461.8 446.8 1597.7 503.1" stroke="#bcbd22" stroke-opacity=".3" stroke-width="25"/>
<path d="M1506.5 219.7 1478.3 237.9 1445.2 261.1 1412 287.7 1378.9 314.2 1352.4 344 1340.8 380.5 1340.8 416.9 1350.7 450.1 1372.3 479.9 1405.4 503.1 1438.6 516.4 1471.7 529.6 1498.2 542.9" stroke="#bcbd22" stroke-width="56"/>
<circle cx="1447.8" cy="426.9" r="20.5" stroke="#bcbd22" stroke-width="17"/>
<circle cx="1449.2" cy="450.1" r="20.5" stroke="#bcbd22" stroke-width="17"/>
<use href="#mx" x="1508.2" y="218"/>
<path d="M1318.8 562.6 1351.6 604.3" stroke="#000" stroke-width="8.3"/>
<path d="M1318.8 562.6 1351.6 604.3" stroke="#ff7f0e" stroke-opacity=".3" stroke-width="25"/>
<path d="M1327.7 574.5 1357.6 613.3" stroke="#000" stroke-width="8.3"/>
<path d="M1327.7 574.5 1357.6 613.3" stroke="#8c564b" stroke-opacity=".3" stroke-width="25"/>
<path d="M1297.9 488 1298.5 488.6" stroke="#ff7f0e" stroke-width="54"/>
<path d="M1291.9 568.5 1306.9 574.5" stroke="#ff7f0e" stroke-width="54"/>
<path d="M1363.5 628.2 1369.5 640.1" stroke="#ff7f0e" stroke-width="40"/>
<path d="M1291.9 544.7 1297.9 568.5" stroke="#8c564b" stroke-width="54"/>
<circle cx="1324.8" cy="529.8" r="20.5" stroke="#8c564b" stroke-width="17"/>
<path d="M1324.8 532.7 1354.6 544.7 1378.5 562.6 1405.3 583.5 1414.3 604.3" stroke="#8c564b" stroke-width="50"/>
<use href="#mx" x="1377" y="582.9"/>
<path d="M1684.3 580.5 1794.6 580.5" stroke="#000" stroke-width="8.3"/>
<path d="M1684.3 580.5 1794.6 580.5" stroke="#9467bd" stroke-opacity=".3" stroke-width="25"/>
<path d="M1697.7 571.5 1727.5 574.5" stroke="#9467bd" stroke-width="56"/>
<path d="M1685.7 598.4 1709.6 604.3" stroke="#9467bd" stroke-width="50"/>
<path d="M1772.3 579 1805.1 579" stroke="#9467bd" stroke-width="50"/>
<use href="#mc" x="1684.3" y="582"/>
<use href="#mx" x="1794.6" y="580.5"/>
<path d="M1652.9 652.1 1697.7 646.1 1727.5 652.1 1745.4 675.9 1772.3 693.8 1802.1 705.8 1820 711.7" stroke="#8c564b" stroke-width="60"/>
<path d="M1638 664 1697.7 670 1727.5 687.9" stroke="#8c564b" stroke-width="54"/>
<path d="M1447.1 741.6 1459 753.5" stroke="#8c564b" stroke-width="56"/>
<path d="M1488.8 723.7 1518.7 738.6 1542.5 744.6" stroke="#8c564b" stroke-width="50"/>
<use href="#mc" x="1488.8" y="693.8"/>
<path d="M1435.1 711.7 1482.9 720.7" stroke="#7f7f7f" stroke-width="50"/>
<path d="M1578.3 765.4 1581.3 768.4" stroke="#d62728" stroke-width="56"/>
<use href="#mc" x="1578.3" y="759.5"/>
<path d="M1548.5 723.7 1578.3 753.5 1638 768.4 1697.7 774.4 1742.4 777.4 1787.2 768.4 1820 771.4" stroke="#e377c2" stroke-width="56"/>
<path d="M1563.4 723.7 1638 747.5 1697.7 753.5" stroke="#e377c2" stroke-width="54"/>
<path d="M1220.3 738.6 1297.9 738.6" stroke="#000" stroke-width="8.3"/>
<path d="M1220.3 738.6 1297.9 738.6" stroke="#d62728" stroke-opacity=".3" stroke-width="25"/>
<path d="M1393.4 693.8 1399.3 711.7" stroke="#000" stroke-width="8.3"/>
<path d="M1393.4 693.8 1399.3 711.7" stroke="#d62728" stroke-opacity=".3" stroke-width="25"/>
<path d="M1300.9 753.5 1339.7 738.6 1378.5 726.7 1393.4 723.7" stroke="#d62728" stroke-width="58"/>
<path d="M1303.9 741.6 1339.7 729.6 1369.5 720.7" stroke="#d62728" stroke-width="50"/>
<use href="#mx" x="1539.6" y="565.6"/>
<path d="M1485.9 502.9 1488.8 526.8" stroke="#ff7f0e" stroke-width="30"/>
<path d="M1369.5 514.8 1429.2 529.8 1488.8 559.6 1548.5 589.4 1608.2 604.3 1652.9 598.4" stroke="#bcbd22" stroke-width="60"/>
<path d="M1384.4 502.9 1429.2 502.9 1459 520.8 1473.9 544.7" stroke="#bcbd22" stroke-width="60"/>
<path d="M1593.3 499.9 1652.9 508.9 1667.8 529.8 1652.9 559.6 1638 583.5 1667.8 610.3" stroke="#bcbd22" stroke-width="60"/>
<path d="M1459 574.5 1518.7 610.3 1578.3 628.2 1623.1 634.2 1652.9 625.2" stroke="#bcbd22" stroke-width="60"/>
<path d="M1548.5 544.7 1578.3 562.6 1608.2 574.5" stroke="#bcbd22" stroke-width="60"/>
<path d="M1384.4 640.1 1414.3 652.1 1435.1 670" stroke="#bcbd22" stroke-width="50"/>
<path d="M1605.2 584.9 1606.7 585.8" stroke="#7f7f7f" stroke-width="40"/>
<use href="#mx" x="1538.1" y="520.8"/>
<path d="M1459 670 1518.7 675.9 1578.3 667 1638 667 1682.8 681.9 1712.6 705.8" stroke="#17becf" stroke-width="60"/>
<path d="M1548.5 699.8 1608.2 705.8 1667.8 723.7 1712.6 738.6 1757.3 747.5 1787.2 741.6 1820 735.6" stroke="#17becf" stroke-width="60"/>
<path d="M1578.3 687.9 1667.8 699.8 1727.5 723.7 1787.2 723.7 1820 720.7" stroke="#17becf" stroke-width="60"/>
<use href="#mc" x="1396.4" y="637.2"/>
<use href="#mc" x="1403.8" y="670"/>
<use href="#mc" x="1470.9" y="662.5"/>
<path d="M1480 738 1493.3 742.5" stroke="#8c564b" stroke-width="50"/>
<path d="M1709.8 702.7 1767.3 707.1 1815.9 720.4" stroke="#8c564b" stroke-width="50"/>
<path d="M1846.9 729.2 1983.9 780" stroke="#000" stroke-width="8.3"/>
<path d="M1846.9 729.2 1983.9 780" stroke="#d62728" stroke-opacity=".3" stroke-width="25"/>
<circle cx="1846.9" cy="729.2" r="20.5" stroke="#d62728" stroke-width="17"/>
<circle cx="1895.5" cy="742.5" r="20.5" stroke="#d62728" stroke-width="17"/>
<circle cx="1926.4" cy="757.9" r="20.5" stroke="#d62728" stroke-width="17"/>
<circle cx="1948.5" cy="769" r="20.5" stroke="#d62728" stroke-width="17"/>
<circle cx="1983.9" cy="780" r="20.5" stroke="#d62728" stroke-width="17"/>
<path d="M1568.4 738 1656.8 764.6 1723.1 773.4 1767.3 769" stroke="#e377c2" stroke-width="56"/>
<path d="M1824.8 791.1 1860.1 799.9" stroke="#e377c2" stroke-width="40"/>
<use href="#mx" x="1838" y="780"/>
<path d="M1480 698.3 1568.4 707.1 1656.8 724.8 1727.5 742.5 1771.7 751.3" stroke="#17becf" stroke-width="60"/>
<path d="M1524.2 689.4 1612.6 693.8 1701 707.1" stroke="#17becf" stroke-width="50"/>
<path d="M1789.4 720.4 1815.9 742.5 1842.4 764.6 1877.8 791.1" stroke="#17becf" stroke-width="56"/>
<path d="M1899.9 791.1 1930.8 808.8 1966.2 826.4 1992.7 835.3" stroke="#17becf" stroke-width="56"/>
<use href="#mx" x="1992.7" y="826.4"/>
</g>
<g font-family="'DejaVu Sans', 'Liberation Sans', sans-serif" font-size="58.33" fill="#000" text-anchor="middle">
<text x="688.7" y="486.5">46</text>
<text x="708.7" y="513.6">7</text>
<text x="886.5" y="495.7">214</text>
<text x="981.9" y="588.2">135</text>
<text x="1052" y="516.6">191</text>
<text x="876.6" y="608.2">65</text>
<text x="771.6" y="612.1">214</text>
<text x="870.1" y="431.6">56</text>
<text x="803.5" y="462.9">47</text>
<text x="825.3" y="455.5">8</text>
<text x="823.8" y="465.9">7</text>
<text x="921.4" y="475.7">68</text>
<text x="768.6" y="528.6">185</text>
<text x="831.3" y="525.6">24</text>
<text x="1098.3" y="558.4">112</text>
<text x="558.5" y="668.3">59</text>
<text x="749.4" y="766.7">175</text>
<text x="803.7" y="863.4">165</text>
<text x="631.5" y="535.5">18</text>
<text x="639" y="565.4">9</text>
<text x="571.9" y="617.6">146</text>
<text x="627.1" y="628">31</text>
<text x="680.8" y="628">68</text>
<text x="639" y="665.3">148</text>
<text x="692.7" y="665.3">22</text>
<text x="746.4" y="657.8">91</text>
<text x="797.1" y="657.8">35</text>
<text x="838.9" y="669.8">157</text>
<text x="788.2" y="634">163</text>
<text x="853.8" y="634">33</text>
<text x="883.6" y="672.8">91</text>
<text x="653.9" y="705.6">163</text>
<text x="728.5" y="699.6">199</text>
<text x="776.2" y="701.1">159</text>
<text x="818" y="704.1">99</text>
<text x="603.2" y="678.7">14</text>
<text x="704.6" y="631">88</text>
<text x="1101.1" y="766.7">175</text>
<text x="1188.2" y="766.7">63</text>
<text x="1408.7" y="235.7">38</text>
<text x="1455.1" y="297.1">29</text>
<text x="1508.2" y="235.7">180</text>
<text x="1377" y="600.6">117</text>
<text x="1684.3" y="599.7">82</text>
<text x="1794.6" y="598.2">82</text>
<text x="1578.3" y="777.2">63</text>
<text x="1538.1" y="538.5">181</text>
<text x="1396.4" y="654.9">181</text>
<text x="1403.8" y="687.7">180</text>
<text x="1470.9" y="680.2">151</text>
<text x="1420.2" y="574.3">29</text>
<text x="1533.6" y="584.7">112</text>
<text x="1566.4" y="610.1">166</text>
<text x="1617.1" y="605.6">68</text>
<text x="1470.9" y="684.7">190</text>
<text x="1488.8" y="705.6">117</text>
<text x="1838" y="797.7">151</text>
<text x="1992.7" y="844.1">190</text>
</g>
</g>
</g>
<rect x="328.2" y="1382.1" width="152.8" height="145.5" fill="#cccccc"/><text x="352.5" y="1483.2" font-family="'DejaVu Serif', 'Liberation Serif', serif" font-size="100" fill="#000">b)</text>
<rect x="311.5" y="1366.4" width="1949" height="1070" fill="none" stroke="#000" stroke-width="6.67"/>
<g font-family="'DejaVu Sans', 'Liberation Sans', sans-serif" font-size="83.33" fill="#000">
<text x="269.8" y="1398.8" text-anchor="end">60°N</text>
<text x="269.8" y="1662" text-anchor="end">30°N</text>
<text x="269.8" y="1925.3" text-anchor="end">0°</text>
<text x="269.8" y="2188.6" text-anchor="end">30°S</text>
<text x="269.8" y="2451.8" text-anchor="end">60°S</text>
<text x="320.6" y="2543" text-anchor="middle">30°E</text>
<text x="671.6" y="2543" text-anchor="middle">70°E</text>
<text x="1022.6" y="2543" text-anchor="middle">110°E</text>
<text x="1373.6" y="2543" text-anchor="middle">150°E</text>
<text x="1724.6" y="2543" text-anchor="middle">170°W</text>
<text x="2075.6" y="2543" text-anchor="middle">130°W</text>
</g>
</svg></body></html>
